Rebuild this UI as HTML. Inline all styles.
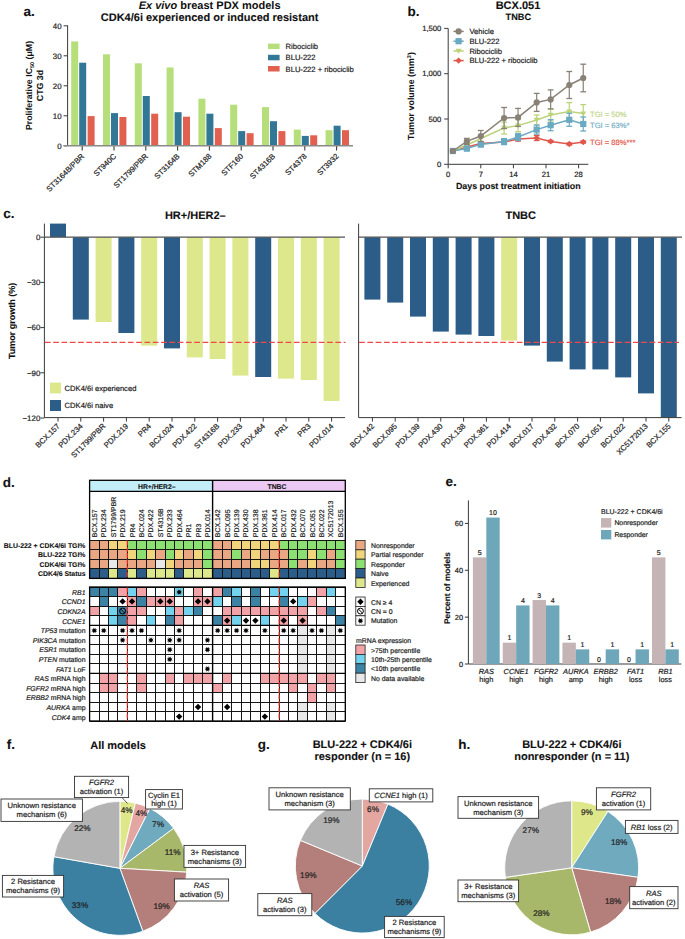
<!DOCTYPE html>
<html><head><meta charset="utf-8"><style>
html,body{margin:0;padding:0;background:#fff;overflow:hidden;width:685px;height:939px;}
svg{display:block;}
text{font-family:"Liberation Sans", sans-serif;text-rendering:geometricPrecision;}
</style></head><body>
<svg width="685" height="939" viewBox="0 0 685 939" font-family='"Liberation Sans", sans-serif'>
<rect width="685" height="939" fill="#fff"/>
<text x="23.50" y="16.20" font-size="13.5" text-anchor="start" font-weight="bold" fill="#111" stroke="#111" stroke-width="0.1">a.</text>
<text x="209.6" y="9.3" font-size="11" text-anchor="middle" font-weight="bold" fill="#111"><tspan font-style="italic">Ex vivo</tspan> breast PDX models</text>
<text x="209.60" y="21.30" font-size="11" text-anchor="middle" font-weight="bold" fill="#111" stroke="#111" stroke-width="0.1">CDK4/6i experienced or induced resistant</text>
<line x1="67.60" y1="25.40" x2="67.60" y2="145.80" stroke="#3a3a3a" stroke-width="1"/>
<line x1="63.60" y1="145.80" x2="67.60" y2="145.80" stroke="#3a3a3a" stroke-width="1"/>
<text x="61.60" y="149.00" font-size="7.9" text-anchor="end" fill="#222" stroke="#222" stroke-width="0.2">0</text>
<line x1="63.60" y1="115.80" x2="67.60" y2="115.80" stroke="#3a3a3a" stroke-width="1"/>
<text x="61.60" y="119.00" font-size="7.9" text-anchor="end" fill="#222" stroke="#222" stroke-width="0.2">10</text>
<line x1="63.60" y1="85.80" x2="67.60" y2="85.80" stroke="#3a3a3a" stroke-width="1"/>
<text x="61.60" y="89.00" font-size="7.9" text-anchor="end" fill="#222" stroke="#222" stroke-width="0.2">20</text>
<line x1="63.60" y1="55.80" x2="67.60" y2="55.80" stroke="#3a3a3a" stroke-width="1"/>
<text x="61.60" y="59.00" font-size="7.9" text-anchor="end" fill="#222" stroke="#222" stroke-width="0.2">30</text>
<line x1="63.60" y1="25.80" x2="67.60" y2="25.80" stroke="#3a3a3a" stroke-width="1"/>
<text x="61.60" y="29.00" font-size="7.9" text-anchor="end" fill="#222" stroke="#222" stroke-width="0.2">40</text>
<rect x="71.20" y="41.40" width="7.00" height="104.40" fill="#b6de7a"/>
<rect x="79.20" y="62.70" width="7.00" height="83.10" fill="#337797"/>
<rect x="87.60" y="116.10" width="7.00" height="29.70" fill="#e2604f"/>
<line x1="82.20" y1="145.80" x2="82.20" y2="150.60" stroke="#3a3a3a" stroke-width="1.1"/>
<text x="84.80" y="156.80" font-size="7.7" text-anchor="end" fill="#222" stroke="#222" stroke-width="0.2" transform="rotate(-45 84.8 156.8)">ST3164B/PBR</text>
<rect x="103.00" y="54.30" width="7.00" height="91.50" fill="#b6de7a"/>
<rect x="111.00" y="113.10" width="7.00" height="32.70" fill="#337797"/>
<rect x="119.40" y="117.00" width="7.00" height="28.80" fill="#e2604f"/>
<line x1="114.00" y1="145.80" x2="114.00" y2="150.60" stroke="#3a3a3a" stroke-width="1.1"/>
<text x="116.60" y="156.80" font-size="7.7" text-anchor="end" fill="#222" stroke="#222" stroke-width="0.2" transform="rotate(-45 116.6 156.8)">ST940C</text>
<rect x="134.80" y="63.30" width="7.00" height="82.50" fill="#b6de7a"/>
<rect x="142.80" y="96.00" width="7.00" height="49.80" fill="#337797"/>
<rect x="151.20" y="113.70" width="7.00" height="32.10" fill="#e2604f"/>
<line x1="145.80" y1="145.80" x2="145.80" y2="150.60" stroke="#3a3a3a" stroke-width="1.1"/>
<text x="148.40" y="156.80" font-size="7.7" text-anchor="end" fill="#222" stroke="#222" stroke-width="0.2" transform="rotate(-45 148.4 156.8)">ST1799/PBR</text>
<rect x="166.60" y="67.50" width="7.00" height="78.30" fill="#b6de7a"/>
<rect x="174.60" y="112.20" width="7.00" height="33.60" fill="#337797"/>
<rect x="183.00" y="116.70" width="7.00" height="29.10" fill="#e2604f"/>
<line x1="177.60" y1="145.80" x2="177.60" y2="150.60" stroke="#3a3a3a" stroke-width="1.1"/>
<text x="180.20" y="156.80" font-size="7.7" text-anchor="end" fill="#222" stroke="#222" stroke-width="0.2" transform="rotate(-45 180.20000000000002 156.8)">ST3164B</text>
<rect x="198.40" y="98.70" width="7.00" height="47.10" fill="#b6de7a"/>
<rect x="206.40" y="113.70" width="7.00" height="32.10" fill="#337797"/>
<rect x="214.80" y="128.10" width="7.00" height="17.70" fill="#e2604f"/>
<line x1="209.40" y1="145.80" x2="209.40" y2="150.60" stroke="#3a3a3a" stroke-width="1.1"/>
<text x="212.00" y="156.80" font-size="7.7" text-anchor="end" fill="#222" stroke="#222" stroke-width="0.2" transform="rotate(-45 212.0 156.8)">STM188</text>
<rect x="230.20" y="104.70" width="7.00" height="41.10" fill="#b6de7a"/>
<rect x="238.20" y="131.10" width="7.00" height="14.70" fill="#337797"/>
<rect x="246.60" y="133.20" width="7.00" height="12.60" fill="#e2604f"/>
<line x1="241.20" y1="145.80" x2="241.20" y2="150.60" stroke="#3a3a3a" stroke-width="1.1"/>
<text x="243.80" y="156.80" font-size="7.7" text-anchor="end" fill="#222" stroke="#222" stroke-width="0.2" transform="rotate(-45 243.79999999999998 156.8)">STF160</text>
<rect x="262.00" y="107.10" width="7.00" height="38.70" fill="#b6de7a"/>
<rect x="270.00" y="121.20" width="7.00" height="24.60" fill="#337797"/>
<rect x="278.40" y="131.10" width="7.00" height="14.70" fill="#e2604f"/>
<line x1="273.00" y1="145.80" x2="273.00" y2="150.60" stroke="#3a3a3a" stroke-width="1.1"/>
<text x="275.60" y="156.80" font-size="7.7" text-anchor="end" fill="#222" stroke="#222" stroke-width="0.2" transform="rotate(-45 275.6 156.8)">ST4316B</text>
<rect x="293.80" y="129.60" width="7.00" height="16.20" fill="#b6de7a"/>
<rect x="301.80" y="135.90" width="7.00" height="9.90" fill="#337797"/>
<rect x="310.20" y="135.30" width="7.00" height="10.50" fill="#e2604f"/>
<line x1="304.80" y1="145.80" x2="304.80" y2="150.60" stroke="#3a3a3a" stroke-width="1.1"/>
<text x="307.40" y="156.80" font-size="7.7" text-anchor="end" fill="#222" stroke="#222" stroke-width="0.2" transform="rotate(-45 307.40000000000003 156.8)">ST4378</text>
<rect x="325.60" y="130.20" width="7.00" height="15.60" fill="#b6de7a"/>
<rect x="333.60" y="125.70" width="7.00" height="20.10" fill="#337797"/>
<rect x="342.00" y="130.20" width="7.00" height="15.60" fill="#e2604f"/>
<line x1="336.60" y1="145.80" x2="336.60" y2="150.60" stroke="#3a3a3a" stroke-width="1.1"/>
<text x="339.20" y="156.80" font-size="7.7" text-anchor="end" fill="#222" stroke="#222" stroke-width="0.2" transform="rotate(-45 339.20000000000005 156.8)">ST3932</text>
<line x1="63.60" y1="145.80" x2="353.00" y2="145.80" stroke="#8a8a8a" stroke-width="1.4"/>
<text x="32" y="85.5" font-size="8.8" text-anchor="middle" font-weight="bold" fill="#111" transform="rotate(-90 32 85.5)">Proliferative IC<tspan font-size="5.5" dy="2">50</tspan><tspan dy="-2"> (μM)</tspan></text>
<text x="42.80" y="85.50" font-size="8.8" text-anchor="middle" font-weight="bold" fill="#111" stroke="#111" stroke-width="0.1" transform="rotate(-90 42.8 85.5)">CTG 3d</text>
<rect x="268.00" y="43.60" width="11.60" height="5.50" fill="#b6de7a"/>
<text x="285.60" y="49.20" font-size="7.6" text-anchor="start" fill="#222" stroke="#222" stroke-width="0.2">Ribociclib</text>
<rect x="268.00" y="54.80" width="11.60" height="5.50" fill="#337797"/>
<text x="285.60" y="60.40" font-size="7.6" text-anchor="start" fill="#222" stroke="#222" stroke-width="0.2">BLU-222</text>
<rect x="268.00" y="66.00" width="11.60" height="5.50" fill="#e2604f"/>
<text x="285.60" y="71.60" font-size="7.6" text-anchor="start" fill="#222" stroke="#222" stroke-width="0.2">BLU-222 + ribociclib</text>
<text x="407.60" y="16.20" font-size="13.5" text-anchor="start" font-weight="bold" fill="#111" stroke="#111" stroke-width="0.1">b.</text>
<text x="518.00" y="9.40" font-size="11" text-anchor="middle" font-weight="bold" fill="#111" stroke="#111" stroke-width="0.1">BCX.051</text>
<text x="518.30" y="20.30" font-size="9.2" text-anchor="middle" font-weight="bold" fill="#111" stroke="#111" stroke-width="0.1">TNBC</text>
<line x1="448.20" y1="28.40" x2="448.20" y2="164.30" stroke="#3a3a3a" stroke-width="1"/>
<line x1="444.20" y1="164.30" x2="448.20" y2="164.30" stroke="#3a3a3a" stroke-width="1"/>
<text x="441.20" y="167.00" font-size="7.6" text-anchor="end" fill="#222" stroke="#222" stroke-width="0.2">0</text>
<line x1="444.20" y1="119.00" x2="448.20" y2="119.00" stroke="#3a3a3a" stroke-width="1"/>
<text x="441.20" y="121.70" font-size="7.6" text-anchor="end" fill="#222" stroke="#222" stroke-width="0.2">500</text>
<line x1="444.20" y1="73.70" x2="448.20" y2="73.70" stroke="#3a3a3a" stroke-width="1"/>
<text x="441.20" y="76.40" font-size="7.6" text-anchor="end" fill="#222" stroke="#222" stroke-width="0.2">1,000</text>
<line x1="444.20" y1="28.40" x2="448.20" y2="28.40" stroke="#3a3a3a" stroke-width="1"/>
<text x="441.20" y="31.10" font-size="7.6" text-anchor="end" fill="#222" stroke="#222" stroke-width="0.2">1,500</text>
<line x1="448.20" y1="164.30" x2="588.30" y2="164.30" stroke="#3a3a3a" stroke-width="1"/>
<line x1="448.20" y1="164.30" x2="448.20" y2="168.30" stroke="#3a3a3a" stroke-width="1"/>
<text x="448.20" y="176.80" font-size="7.6" text-anchor="middle" fill="#222" stroke="#222" stroke-width="0.2">0</text>
<line x1="480.80" y1="164.30" x2="480.80" y2="168.30" stroke="#3a3a3a" stroke-width="1"/>
<text x="480.80" y="176.80" font-size="7.6" text-anchor="middle" fill="#222" stroke="#222" stroke-width="0.2">7</text>
<line x1="513.40" y1="164.30" x2="513.40" y2="168.30" stroke="#3a3a3a" stroke-width="1"/>
<text x="513.40" y="176.80" font-size="7.6" text-anchor="middle" fill="#222" stroke="#222" stroke-width="0.2">14</text>
<line x1="546.00" y1="164.30" x2="546.00" y2="168.30" stroke="#3a3a3a" stroke-width="1"/>
<text x="546.00" y="176.80" font-size="7.6" text-anchor="middle" fill="#222" stroke="#222" stroke-width="0.2">21</text>
<line x1="578.60" y1="164.30" x2="578.60" y2="168.30" stroke="#3a3a3a" stroke-width="1"/>
<text x="578.60" y="176.80" font-size="7.6" text-anchor="middle" fill="#222" stroke="#222" stroke-width="0.2">28</text>
<text x="518.30" y="188.60" font-size="8.9" text-anchor="middle" font-weight="bold" fill="#111" stroke="#111" stroke-width="0.1">Days post treatment initiation</text>
<text x="413.5" y="96" font-size="8.9" text-anchor="middle" font-weight="bold" fill="#111" transform="rotate(-90 413.5 96)">Tumor volume (mm<tspan font-size="5.5" dy="-3">3</tspan><tspan dy="3">)</tspan></text>
<polyline points="452.86,151.00 466.83,147.00 480.80,143.60 504.08,142.00 518.05,139.00 536.68,138.00 550.65,141.40 569.28,144.00 583.25,142.00" fill="none" stroke="#e0564a" stroke-width="1.5"/>
<line x1="466.83" y1="146.00" x2="466.83" y2="148.00" stroke="#e0564a" stroke-width="1.2"/>
<line x1="463.93" y1="146.00" x2="469.73" y2="146.00" stroke="#e0564a" stroke-width="1.3"/>
<line x1="463.93" y1="148.00" x2="469.73" y2="148.00" stroke="#e0564a" stroke-width="1.3"/>
<line x1="480.80" y1="141.60" x2="480.80" y2="145.60" stroke="#e0564a" stroke-width="1.2"/>
<line x1="477.90" y1="141.60" x2="483.70" y2="141.60" stroke="#e0564a" stroke-width="1.3"/>
<line x1="477.90" y1="145.60" x2="483.70" y2="145.60" stroke="#e0564a" stroke-width="1.3"/>
<line x1="504.08" y1="140.00" x2="504.08" y2="144.00" stroke="#e0564a" stroke-width="1.2"/>
<line x1="501.18" y1="140.00" x2="506.98" y2="140.00" stroke="#e0564a" stroke-width="1.3"/>
<line x1="501.18" y1="144.00" x2="506.98" y2="144.00" stroke="#e0564a" stroke-width="1.3"/>
<line x1="518.05" y1="137.00" x2="518.05" y2="141.00" stroke="#e0564a" stroke-width="1.2"/>
<line x1="515.15" y1="137.00" x2="520.95" y2="137.00" stroke="#e0564a" stroke-width="1.3"/>
<line x1="515.15" y1="141.00" x2="520.95" y2="141.00" stroke="#e0564a" stroke-width="1.3"/>
<line x1="536.68" y1="135.50" x2="536.68" y2="140.50" stroke="#e0564a" stroke-width="1.2"/>
<line x1="533.78" y1="135.50" x2="539.58" y2="135.50" stroke="#e0564a" stroke-width="1.3"/>
<line x1="533.78" y1="140.50" x2="539.58" y2="140.50" stroke="#e0564a" stroke-width="1.3"/>
<line x1="550.65" y1="140.40" x2="550.65" y2="142.40" stroke="#e0564a" stroke-width="1.2"/>
<line x1="547.75" y1="140.40" x2="553.55" y2="140.40" stroke="#e0564a" stroke-width="1.3"/>
<line x1="547.75" y1="142.40" x2="553.55" y2="142.40" stroke="#e0564a" stroke-width="1.3"/>
<line x1="569.28" y1="143.00" x2="569.28" y2="145.00" stroke="#e0564a" stroke-width="1.2"/>
<line x1="566.38" y1="143.00" x2="572.18" y2="143.00" stroke="#e0564a" stroke-width="1.3"/>
<line x1="566.38" y1="145.00" x2="572.18" y2="145.00" stroke="#e0564a" stroke-width="1.3"/>
<line x1="583.25" y1="141.00" x2="583.25" y2="143.00" stroke="#e0564a" stroke-width="1.2"/>
<line x1="580.35" y1="141.00" x2="586.15" y2="141.00" stroke="#e0564a" stroke-width="1.3"/>
<line x1="580.35" y1="143.00" x2="586.15" y2="143.00" stroke="#e0564a" stroke-width="1.3"/>
<path d="M452.86,147.80 L456.06,151.00 L452.86,154.20 L449.66,151.00 Z" fill="#e0564a"/>
<path d="M466.83,143.80 L470.03,147.00 L466.83,150.20 L463.63,147.00 Z" fill="#e0564a"/>
<path d="M480.80,140.40 L484.00,143.60 L480.80,146.80 L477.60,143.60 Z" fill="#e0564a"/>
<path d="M504.08,138.80 L507.28,142.00 L504.08,145.20 L500.88,142.00 Z" fill="#e0564a"/>
<path d="M518.05,135.80 L521.25,139.00 L518.05,142.20 L514.85,139.00 Z" fill="#e0564a"/>
<path d="M536.68,134.80 L539.88,138.00 L536.68,141.20 L533.48,138.00 Z" fill="#e0564a"/>
<path d="M550.65,138.20 L553.85,141.40 L550.65,144.60 L547.45,141.40 Z" fill="#e0564a"/>
<path d="M569.28,140.80 L572.48,144.00 L569.28,147.20 L566.08,144.00 Z" fill="#e0564a"/>
<path d="M583.25,138.80 L586.45,142.00 L583.25,145.20 L580.05,142.00 Z" fill="#e0564a"/>
<polyline points="452.86,151.00 466.83,145.00 480.80,138.50 504.08,128.00 518.05,125.60 536.68,120.00 550.65,115.00 569.28,111.60 583.25,113.60" fill="none" stroke="#bcd37b" stroke-width="1.5"/>
<line x1="466.83" y1="143.00" x2="466.83" y2="147.00" stroke="#bcd37b" stroke-width="1.2"/>
<line x1="463.93" y1="143.00" x2="469.73" y2="143.00" stroke="#bcd37b" stroke-width="1.3"/>
<line x1="463.93" y1="147.00" x2="469.73" y2="147.00" stroke="#bcd37b" stroke-width="1.3"/>
<line x1="480.80" y1="135.50" x2="480.80" y2="141.50" stroke="#bcd37b" stroke-width="1.2"/>
<line x1="477.90" y1="135.50" x2="483.70" y2="135.50" stroke="#bcd37b" stroke-width="1.3"/>
<line x1="477.90" y1="141.50" x2="483.70" y2="141.50" stroke="#bcd37b" stroke-width="1.3"/>
<line x1="504.08" y1="122.00" x2="504.08" y2="134.00" stroke="#bcd37b" stroke-width="1.2"/>
<line x1="501.18" y1="122.00" x2="506.98" y2="122.00" stroke="#bcd37b" stroke-width="1.3"/>
<line x1="501.18" y1="134.00" x2="506.98" y2="134.00" stroke="#bcd37b" stroke-width="1.3"/>
<line x1="518.05" y1="119.60" x2="518.05" y2="131.60" stroke="#bcd37b" stroke-width="1.2"/>
<line x1="515.15" y1="119.60" x2="520.95" y2="119.60" stroke="#bcd37b" stroke-width="1.3"/>
<line x1="515.15" y1="131.60" x2="520.95" y2="131.60" stroke="#bcd37b" stroke-width="1.3"/>
<line x1="536.68" y1="115.00" x2="536.68" y2="125.00" stroke="#bcd37b" stroke-width="1.2"/>
<line x1="533.78" y1="115.00" x2="539.58" y2="115.00" stroke="#bcd37b" stroke-width="1.3"/>
<line x1="533.78" y1="125.00" x2="539.58" y2="125.00" stroke="#bcd37b" stroke-width="1.3"/>
<line x1="550.65" y1="109.00" x2="550.65" y2="121.00" stroke="#bcd37b" stroke-width="1.2"/>
<line x1="547.75" y1="109.00" x2="553.55" y2="109.00" stroke="#bcd37b" stroke-width="1.3"/>
<line x1="547.75" y1="121.00" x2="553.55" y2="121.00" stroke="#bcd37b" stroke-width="1.3"/>
<line x1="569.28" y1="102.60" x2="569.28" y2="120.60" stroke="#bcd37b" stroke-width="1.2"/>
<line x1="566.38" y1="102.60" x2="572.18" y2="102.60" stroke="#bcd37b" stroke-width="1.3"/>
<line x1="566.38" y1="120.60" x2="572.18" y2="120.60" stroke="#bcd37b" stroke-width="1.3"/>
<line x1="583.25" y1="104.60" x2="583.25" y2="122.60" stroke="#bcd37b" stroke-width="1.2"/>
<line x1="580.35" y1="104.60" x2="586.15" y2="104.60" stroke="#bcd37b" stroke-width="1.3"/>
<line x1="580.35" y1="122.60" x2="586.15" y2="122.60" stroke="#bcd37b" stroke-width="1.3"/>
<path d="M449.86,148.80 L455.86,148.80 L452.86,153.80 Z" fill="#bcd37b"/>
<path d="M463.83,142.80 L469.83,142.80 L466.83,147.80 Z" fill="#bcd37b"/>
<path d="M477.80,136.30 L483.80,136.30 L480.80,141.30 Z" fill="#bcd37b"/>
<path d="M501.08,125.80 L507.08,125.80 L504.08,130.80 Z" fill="#bcd37b"/>
<path d="M515.05,123.40 L521.05,123.40 L518.05,128.40 Z" fill="#bcd37b"/>
<path d="M533.68,117.80 L539.68,117.80 L536.68,122.80 Z" fill="#bcd37b"/>
<path d="M547.65,112.80 L553.65,112.80 L550.65,117.80 Z" fill="#bcd37b"/>
<path d="M566.28,109.40 L572.28,109.40 L569.28,114.40 Z" fill="#bcd37b"/>
<path d="M580.25,111.40 L586.25,111.40 L583.25,116.40 Z" fill="#bcd37b"/>
<polyline points="452.86,151.00 466.83,148.60 480.80,144.40 504.08,141.60 518.05,137.00 536.68,129.60 550.65,125.20 569.28,119.80 583.25,124.00" fill="none" stroke="#69a9c2" stroke-width="1.5"/>
<line x1="466.83" y1="146.60" x2="466.83" y2="150.60" stroke="#69a9c2" stroke-width="1.2"/>
<line x1="463.93" y1="146.60" x2="469.73" y2="146.60" stroke="#69a9c2" stroke-width="1.3"/>
<line x1="463.93" y1="150.60" x2="469.73" y2="150.60" stroke="#69a9c2" stroke-width="1.3"/>
<line x1="480.80" y1="141.90" x2="480.80" y2="146.90" stroke="#69a9c2" stroke-width="1.2"/>
<line x1="477.90" y1="141.90" x2="483.70" y2="141.90" stroke="#69a9c2" stroke-width="1.3"/>
<line x1="477.90" y1="146.90" x2="483.70" y2="146.90" stroke="#69a9c2" stroke-width="1.3"/>
<line x1="504.08" y1="138.60" x2="504.08" y2="144.60" stroke="#69a9c2" stroke-width="1.2"/>
<line x1="501.18" y1="138.60" x2="506.98" y2="138.60" stroke="#69a9c2" stroke-width="1.3"/>
<line x1="501.18" y1="144.60" x2="506.98" y2="144.60" stroke="#69a9c2" stroke-width="1.3"/>
<line x1="518.05" y1="133.50" x2="518.05" y2="140.50" stroke="#69a9c2" stroke-width="1.2"/>
<line x1="515.15" y1="133.50" x2="520.95" y2="133.50" stroke="#69a9c2" stroke-width="1.3"/>
<line x1="515.15" y1="140.50" x2="520.95" y2="140.50" stroke="#69a9c2" stroke-width="1.3"/>
<line x1="536.68" y1="125.10" x2="536.68" y2="134.10" stroke="#69a9c2" stroke-width="1.2"/>
<line x1="533.78" y1="125.10" x2="539.58" y2="125.10" stroke="#69a9c2" stroke-width="1.3"/>
<line x1="533.78" y1="134.10" x2="539.58" y2="134.10" stroke="#69a9c2" stroke-width="1.3"/>
<line x1="550.65" y1="119.70" x2="550.65" y2="130.70" stroke="#69a9c2" stroke-width="1.2"/>
<line x1="547.75" y1="119.70" x2="553.55" y2="119.70" stroke="#69a9c2" stroke-width="1.3"/>
<line x1="547.75" y1="130.70" x2="553.55" y2="130.70" stroke="#69a9c2" stroke-width="1.3"/>
<line x1="569.28" y1="113.30" x2="569.28" y2="126.30" stroke="#69a9c2" stroke-width="1.2"/>
<line x1="566.38" y1="113.30" x2="572.18" y2="113.30" stroke="#69a9c2" stroke-width="1.3"/>
<line x1="566.38" y1="126.30" x2="572.18" y2="126.30" stroke="#69a9c2" stroke-width="1.3"/>
<line x1="583.25" y1="117.00" x2="583.25" y2="131.00" stroke="#69a9c2" stroke-width="1.2"/>
<line x1="580.35" y1="117.00" x2="586.15" y2="117.00" stroke="#69a9c2" stroke-width="1.3"/>
<line x1="580.35" y1="131.00" x2="586.15" y2="131.00" stroke="#69a9c2" stroke-width="1.3"/>
<rect x="449.76" y="147.90" width="6.20" height="6.20" fill="#69a9c2"/>
<rect x="463.73" y="145.50" width="6.20" height="6.20" fill="#69a9c2"/>
<rect x="477.70" y="141.30" width="6.20" height="6.20" fill="#69a9c2"/>
<rect x="500.98" y="138.50" width="6.20" height="6.20" fill="#69a9c2"/>
<rect x="514.95" y="133.90" width="6.20" height="6.20" fill="#69a9c2"/>
<rect x="533.58" y="126.50" width="6.20" height="6.20" fill="#69a9c2"/>
<rect x="547.55" y="122.10" width="6.20" height="6.20" fill="#69a9c2"/>
<rect x="566.18" y="116.70" width="6.20" height="6.20" fill="#69a9c2"/>
<rect x="580.15" y="120.90" width="6.20" height="6.20" fill="#69a9c2"/>
<polyline points="452.86,151.00 466.83,141.40 480.80,136.00 504.08,118.00 518.05,117.40 536.68,102.40 550.65,99.40 569.28,85.00 583.25,78.00" fill="none" stroke="#8a8176" stroke-width="1.5"/>
<line x1="466.83" y1="138.40" x2="466.83" y2="144.40" stroke="#8a8176" stroke-width="1.2"/>
<line x1="463.93" y1="138.40" x2="469.73" y2="138.40" stroke="#8a8176" stroke-width="1.3"/>
<line x1="463.93" y1="144.40" x2="469.73" y2="144.40" stroke="#8a8176" stroke-width="1.3"/>
<line x1="480.80" y1="130.50" x2="480.80" y2="141.50" stroke="#8a8176" stroke-width="1.2"/>
<line x1="477.90" y1="130.50" x2="483.70" y2="130.50" stroke="#8a8176" stroke-width="1.3"/>
<line x1="477.90" y1="141.50" x2="483.70" y2="141.50" stroke="#8a8176" stroke-width="1.3"/>
<line x1="504.08" y1="107.50" x2="504.08" y2="128.50" stroke="#8a8176" stroke-width="1.2"/>
<line x1="501.18" y1="107.50" x2="506.98" y2="107.50" stroke="#8a8176" stroke-width="1.3"/>
<line x1="501.18" y1="128.50" x2="506.98" y2="128.50" stroke="#8a8176" stroke-width="1.3"/>
<line x1="518.05" y1="108.40" x2="518.05" y2="126.40" stroke="#8a8176" stroke-width="1.2"/>
<line x1="515.15" y1="108.40" x2="520.95" y2="108.40" stroke="#8a8176" stroke-width="1.3"/>
<line x1="515.15" y1="126.40" x2="520.95" y2="126.40" stroke="#8a8176" stroke-width="1.3"/>
<line x1="536.68" y1="93.40" x2="536.68" y2="111.40" stroke="#8a8176" stroke-width="1.2"/>
<line x1="533.78" y1="93.40" x2="539.58" y2="93.40" stroke="#8a8176" stroke-width="1.3"/>
<line x1="533.78" y1="111.40" x2="539.58" y2="111.40" stroke="#8a8176" stroke-width="1.3"/>
<line x1="550.65" y1="89.90" x2="550.65" y2="108.90" stroke="#8a8176" stroke-width="1.2"/>
<line x1="547.75" y1="89.90" x2="553.55" y2="89.90" stroke="#8a8176" stroke-width="1.3"/>
<line x1="547.75" y1="108.90" x2="553.55" y2="108.90" stroke="#8a8176" stroke-width="1.3"/>
<line x1="569.28" y1="71.50" x2="569.28" y2="98.50" stroke="#8a8176" stroke-width="1.2"/>
<line x1="566.38" y1="71.50" x2="572.18" y2="71.50" stroke="#8a8176" stroke-width="1.3"/>
<line x1="566.38" y1="98.50" x2="572.18" y2="98.50" stroke="#8a8176" stroke-width="1.3"/>
<line x1="583.25" y1="64.20" x2="583.25" y2="91.80" stroke="#8a8176" stroke-width="1.2"/>
<line x1="580.35" y1="64.20" x2="586.15" y2="64.20" stroke="#8a8176" stroke-width="1.3"/>
<line x1="580.35" y1="91.80" x2="586.15" y2="91.80" stroke="#8a8176" stroke-width="1.3"/>
<circle cx="452.86" cy="151.00" r="3.1" fill="#8a8176"/>
<circle cx="466.83" cy="141.40" r="3.1" fill="#8a8176"/>
<circle cx="480.80" cy="136.00" r="3.1" fill="#8a8176"/>
<circle cx="504.08" cy="118.00" r="3.1" fill="#8a8176"/>
<circle cx="518.05" cy="117.40" r="3.1" fill="#8a8176"/>
<circle cx="536.68" cy="102.40" r="3.1" fill="#8a8176"/>
<circle cx="550.65" cy="99.40" r="3.1" fill="#8a8176"/>
<circle cx="569.28" cy="85.00" r="3.1" fill="#8a8176"/>
<circle cx="583.25" cy="78.00" r="3.1" fill="#8a8176"/>
<line x1="453.50" y1="31.40" x2="463.70" y2="31.40" stroke="#8a8176" stroke-width="1.5"/>
<circle cx="458.60" cy="31.40" r="3.1" fill="#8a8176"/>
<text x="469.40" y="34.10" font-size="7.6" text-anchor="start" fill="#222" stroke="#222" stroke-width="0.2">Vehicle</text>
<line x1="453.50" y1="41.20" x2="463.70" y2="41.20" stroke="#69a9c2" stroke-width="1.5"/>
<rect x="455.50" y="38.10" width="6.20" height="6.20" fill="#69a9c2"/>
<text x="469.40" y="43.90" font-size="7.6" text-anchor="start" fill="#222" stroke="#222" stroke-width="0.2">BLU-222</text>
<line x1="453.50" y1="51.00" x2="463.70" y2="51.00" stroke="#bcd37b" stroke-width="1.5"/>
<path d="M455.60,48.80 L461.60,48.80 L458.60,53.80 Z" fill="#bcd37b"/>
<text x="469.40" y="53.70" font-size="7.6" text-anchor="start" fill="#222" stroke="#222" stroke-width="0.2">Ribociclib</text>
<line x1="453.50" y1="60.60" x2="463.70" y2="60.60" stroke="#e0564a" stroke-width="1.5"/>
<path d="M458.60,57.40 L461.80,60.60 L458.60,63.80 L455.40,60.60 Z" fill="#e0564a"/>
<text x="469.40" y="63.30" font-size="7.6" text-anchor="start" fill="#222" stroke="#222" stroke-width="0.2">BLU-222 + ribociclib</text>
<text x="590.00" y="117.10" font-size="7.6" text-anchor="start" fill="#c3d68c" stroke="#c3d68c" stroke-width="0.2">TGI = 50%</text>
<text x="590.00" y="128.30" font-size="7.6" text-anchor="start" fill="#79b1c6" stroke="#79b1c6" stroke-width="0.2">TGI = 63%*</text>
<text x="590.00" y="145.10" font-size="7.6" text-anchor="start" fill="#e45c50" stroke="#e45c50" stroke-width="0.2">TGI = 88%***</text>
<text x="3.20" y="218.30" font-size="13.5" text-anchor="start" font-weight="bold" fill="#111" stroke="#111" stroke-width="0.1">c.</text>
<text x="195.30" y="219.20" font-size="11" text-anchor="middle" font-weight="bold" fill="#111" stroke="#111" stroke-width="0.1">HR+/HER2–</text>
<text x="520.70" y="219.20" font-size="11" text-anchor="middle" font-weight="bold" fill="#111" stroke="#111" stroke-width="0.1">TNBC</text>
<line x1="44.40" y1="223.60" x2="44.40" y2="417.60" stroke="#3a3a3a" stroke-width="1"/>
<line x1="40.40" y1="237.20" x2="44.40" y2="237.20" stroke="#3a3a3a" stroke-width="1"/>
<text x="40.30" y="240.00" font-size="7.9" text-anchor="end" fill="#222" stroke="#222" stroke-width="0.2">0</text>
<line x1="40.40" y1="282.40" x2="44.40" y2="282.40" stroke="#3a3a3a" stroke-width="1"/>
<text x="40.30" y="285.20" font-size="7.9" text-anchor="end" fill="#222" stroke="#222" stroke-width="0.2">−30</text>
<line x1="40.40" y1="327.60" x2="44.40" y2="327.60" stroke="#3a3a3a" stroke-width="1"/>
<text x="40.30" y="330.40" font-size="7.9" text-anchor="end" fill="#222" stroke="#222" stroke-width="0.2">−60</text>
<line x1="40.40" y1="372.80" x2="44.40" y2="372.80" stroke="#3a3a3a" stroke-width="1"/>
<text x="40.30" y="375.60" font-size="7.9" text-anchor="end" fill="#222" stroke="#222" stroke-width="0.2">−90</text>
<line x1="40.40" y1="418.00" x2="44.40" y2="418.00" stroke="#3a3a3a" stroke-width="1"/>
<text x="40.30" y="420.80" font-size="7.9" text-anchor="end" fill="#222" stroke="#222" stroke-width="0.2">−120</text>
<rect x="50.00" y="223.60" width="16.00" height="13.60" fill="#2c5d88"/>
<line x1="58.00" y1="417.60" x2="58.00" y2="421.60" stroke="#3a3a3a" stroke-width="1"/>
<text x="60.40" y="426.60" font-size="7.7" text-anchor="end" fill="#222" stroke="#222" stroke-width="0.2" transform="rotate(-45 60.4 426.6)">BCX.157</text>
<rect x="72.80" y="237.20" width="16.00" height="82.40" fill="#2c5d88"/>
<line x1="80.80" y1="417.60" x2="80.80" y2="421.60" stroke="#3a3a3a" stroke-width="1"/>
<text x="83.20" y="426.60" font-size="7.7" text-anchor="end" fill="#222" stroke="#222" stroke-width="0.2" transform="rotate(-45 83.2 426.6)">PDX.234</text>
<rect x="95.60" y="237.20" width="16.00" height="84.80" fill="#dde78b"/>
<line x1="103.60" y1="417.60" x2="103.60" y2="421.60" stroke="#3a3a3a" stroke-width="1"/>
<text x="106.00" y="426.60" font-size="7.7" text-anchor="end" fill="#222" stroke="#222" stroke-width="0.2" transform="rotate(-45 106.0 426.6)">ST1799/PBR</text>
<rect x="118.40" y="237.20" width="16.00" height="95.80" fill="#2c5d88"/>
<line x1="126.40" y1="417.60" x2="126.40" y2="421.60" stroke="#3a3a3a" stroke-width="1"/>
<text x="128.80" y="426.60" font-size="7.7" text-anchor="end" fill="#222" stroke="#222" stroke-width="0.2" transform="rotate(-45 128.8 426.6)">PDX.219</text>
<rect x="141.20" y="237.20" width="16.00" height="108.40" fill="#dde78b"/>
<line x1="149.20" y1="417.60" x2="149.20" y2="421.60" stroke="#3a3a3a" stroke-width="1"/>
<text x="151.60" y="426.60" font-size="7.7" text-anchor="end" fill="#222" stroke="#222" stroke-width="0.2" transform="rotate(-45 151.6 426.6)">PR4</text>
<rect x="164.00" y="237.20" width="16.00" height="111.20" fill="#2c5d88"/>
<line x1="172.00" y1="417.60" x2="172.00" y2="421.60" stroke="#3a3a3a" stroke-width="1"/>
<text x="174.40" y="426.60" font-size="7.7" text-anchor="end" fill="#222" stroke="#222" stroke-width="0.2" transform="rotate(-45 174.4 426.6)">BCX.024</text>
<rect x="186.80" y="237.20" width="16.00" height="120.20" fill="#dde78b"/>
<line x1="194.80" y1="417.60" x2="194.80" y2="421.60" stroke="#3a3a3a" stroke-width="1"/>
<text x="197.20" y="426.60" font-size="7.7" text-anchor="end" fill="#222" stroke="#222" stroke-width="0.2" transform="rotate(-45 197.20000000000002 426.6)">PDX.422</text>
<rect x="209.60" y="237.20" width="16.00" height="121.80" fill="#dde78b"/>
<line x1="217.60" y1="417.60" x2="217.60" y2="421.60" stroke="#3a3a3a" stroke-width="1"/>
<text x="220.00" y="426.60" font-size="7.7" text-anchor="end" fill="#222" stroke="#222" stroke-width="0.2" transform="rotate(-45 220.0 426.6)">ST4316B</text>
<rect x="232.40" y="237.20" width="16.00" height="138.40" fill="#dde78b"/>
<line x1="240.40" y1="417.60" x2="240.40" y2="421.60" stroke="#3a3a3a" stroke-width="1"/>
<text x="242.80" y="426.60" font-size="7.7" text-anchor="end" fill="#222" stroke="#222" stroke-width="0.2" transform="rotate(-45 242.8 426.6)">PDX.233</text>
<rect x="255.20" y="237.20" width="16.00" height="139.80" fill="#2c5d88"/>
<line x1="263.20" y1="417.60" x2="263.20" y2="421.60" stroke="#3a3a3a" stroke-width="1"/>
<text x="265.60" y="426.60" font-size="7.7" text-anchor="end" fill="#222" stroke="#222" stroke-width="0.2" transform="rotate(-45 265.6 426.6)">PDX.464</text>
<rect x="278.00" y="237.20" width="16.00" height="141.40" fill="#dde78b"/>
<line x1="286.00" y1="417.60" x2="286.00" y2="421.60" stroke="#3a3a3a" stroke-width="1"/>
<text x="288.40" y="426.60" font-size="7.7" text-anchor="end" fill="#222" stroke="#222" stroke-width="0.2" transform="rotate(-45 288.4 426.6)">PR1</text>
<rect x="300.80" y="237.20" width="16.00" height="142.80" fill="#dde78b"/>
<line x1="308.80" y1="417.60" x2="308.80" y2="421.60" stroke="#3a3a3a" stroke-width="1"/>
<text x="311.20" y="426.60" font-size="7.7" text-anchor="end" fill="#222" stroke="#222" stroke-width="0.2" transform="rotate(-45 311.2 426.6)">PR3</text>
<rect x="323.60" y="237.20" width="16.00" height="163.80" fill="#dde78b"/>
<line x1="331.60" y1="417.60" x2="331.60" y2="421.60" stroke="#3a3a3a" stroke-width="1"/>
<text x="334.00" y="426.60" font-size="7.7" text-anchor="end" fill="#222" stroke="#222" stroke-width="0.2" transform="rotate(-45 334.0 426.6)">PDX.014</text>
<line x1="44.40" y1="237.20" x2="345.00" y2="237.20" stroke="#555" stroke-width="1.2"/>
<line x1="44.40" y1="417.60" x2="345.00" y2="417.60" stroke="#3a3a3a" stroke-width="1"/>
<line x1="358.60" y1="223.60" x2="358.60" y2="417.60" stroke="#3a3a3a" stroke-width="1"/>
<rect x="364.40" y="237.20" width="16.00" height="62.40" fill="#2c5d88"/>
<line x1="372.40" y1="417.60" x2="372.40" y2="421.60" stroke="#3a3a3a" stroke-width="1"/>
<text x="374.80" y="426.60" font-size="7.7" text-anchor="end" fill="#222" stroke="#222" stroke-width="0.2" transform="rotate(-45 374.79999999999995 426.6)">BCX.142</text>
<rect x="387.20" y="237.20" width="16.00" height="65.40" fill="#2c5d88"/>
<line x1="395.20" y1="417.60" x2="395.20" y2="421.60" stroke="#3a3a3a" stroke-width="1"/>
<text x="397.60" y="426.60" font-size="7.7" text-anchor="end" fill="#222" stroke="#222" stroke-width="0.2" transform="rotate(-45 397.59999999999997 426.6)">BCX.095</text>
<rect x="410.00" y="237.20" width="16.00" height="79.40" fill="#2c5d88"/>
<line x1="418.00" y1="417.60" x2="418.00" y2="421.60" stroke="#3a3a3a" stroke-width="1"/>
<text x="420.40" y="426.60" font-size="7.7" text-anchor="end" fill="#222" stroke="#222" stroke-width="0.2" transform="rotate(-45 420.4 426.6)">PDX.139</text>
<rect x="432.80" y="237.20" width="16.00" height="94.40" fill="#2c5d88"/>
<line x1="440.80" y1="417.60" x2="440.80" y2="421.60" stroke="#3a3a3a" stroke-width="1"/>
<text x="443.20" y="426.60" font-size="7.7" text-anchor="end" fill="#222" stroke="#222" stroke-width="0.2" transform="rotate(-45 443.19999999999993 426.6)">PDX.430</text>
<rect x="455.60" y="237.20" width="16.00" height="97.40" fill="#2c5d88"/>
<line x1="463.60" y1="417.60" x2="463.60" y2="421.60" stroke="#3a3a3a" stroke-width="1"/>
<text x="466.00" y="426.60" font-size="7.7" text-anchor="end" fill="#222" stroke="#222" stroke-width="0.2" transform="rotate(-45 465.99999999999994 426.6)">PDX.138</text>
<rect x="478.40" y="237.20" width="16.00" height="98.80" fill="#2c5d88"/>
<line x1="486.40" y1="417.60" x2="486.40" y2="421.60" stroke="#3a3a3a" stroke-width="1"/>
<text x="488.80" y="426.60" font-size="7.7" text-anchor="end" fill="#222" stroke="#222" stroke-width="0.2" transform="rotate(-45 488.79999999999995 426.6)">PDX.361</text>
<rect x="501.20" y="237.20" width="16.00" height="103.40" fill="#dde78b"/>
<line x1="509.20" y1="417.60" x2="509.20" y2="421.60" stroke="#3a3a3a" stroke-width="1"/>
<text x="511.60" y="426.60" font-size="7.7" text-anchor="end" fill="#222" stroke="#222" stroke-width="0.2" transform="rotate(-45 511.59999999999997 426.6)">PDX.414</text>
<rect x="524.00" y="237.20" width="16.00" height="108.40" fill="#2c5d88"/>
<line x1="532.00" y1="417.60" x2="532.00" y2="421.60" stroke="#3a3a3a" stroke-width="1"/>
<text x="534.40" y="426.60" font-size="7.7" text-anchor="end" fill="#222" stroke="#222" stroke-width="0.2" transform="rotate(-45 534.4 426.6)">BCX.017</text>
<rect x="546.80" y="237.20" width="16.00" height="124.40" fill="#2c5d88"/>
<line x1="554.80" y1="417.60" x2="554.80" y2="421.60" stroke="#3a3a3a" stroke-width="1"/>
<text x="557.20" y="426.60" font-size="7.7" text-anchor="end" fill="#222" stroke="#222" stroke-width="0.2" transform="rotate(-45 557.1999999999999 426.6)">PDX.432</text>
<rect x="569.60" y="237.20" width="16.00" height="132.20" fill="#2c5d88"/>
<line x1="577.60" y1="417.60" x2="577.60" y2="421.60" stroke="#3a3a3a" stroke-width="1"/>
<text x="580.00" y="426.60" font-size="7.7" text-anchor="end" fill="#222" stroke="#222" stroke-width="0.2" transform="rotate(-45 580.0 426.6)">BCX.070</text>
<rect x="592.40" y="237.20" width="16.00" height="132.20" fill="#2c5d88"/>
<line x1="600.40" y1="417.60" x2="600.40" y2="421.60" stroke="#3a3a3a" stroke-width="1"/>
<text x="602.80" y="426.60" font-size="7.7" text-anchor="end" fill="#222" stroke="#222" stroke-width="0.2" transform="rotate(-45 602.8 426.6)">BCX.051</text>
<rect x="615.20" y="237.20" width="16.00" height="140.20" fill="#2c5d88"/>
<line x1="623.20" y1="417.60" x2="623.20" y2="421.60" stroke="#3a3a3a" stroke-width="1"/>
<text x="625.60" y="426.60" font-size="7.7" text-anchor="end" fill="#222" stroke="#222" stroke-width="0.2" transform="rotate(-45 625.6 426.6)">BCX.022</text>
<rect x="638.00" y="237.20" width="16.00" height="156.20" fill="#2c5d88"/>
<line x1="646.00" y1="417.60" x2="646.00" y2="421.60" stroke="#3a3a3a" stroke-width="1"/>
<text x="648.40" y="426.60" font-size="7.7" text-anchor="end" fill="#222" stroke="#222" stroke-width="0.2" transform="rotate(-45 648.4 426.6)">XC5172013</text>
<rect x="660.80" y="237.20" width="16.00" height="180.20" fill="#2c5d88"/>
<line x1="668.80" y1="417.60" x2="668.80" y2="421.60" stroke="#3a3a3a" stroke-width="1"/>
<text x="671.20" y="426.60" font-size="7.7" text-anchor="end" fill="#222" stroke="#222" stroke-width="0.2" transform="rotate(-45 671.1999999999999 426.6)">BCX.155</text>
<line x1="358.60" y1="237.20" x2="682.00" y2="237.20" stroke="#555" stroke-width="1.2"/>
<line x1="358.60" y1="417.60" x2="681.60" y2="417.60" stroke="#3a3a3a" stroke-width="1"/>
<line x1="44.90" y1="342.45" x2="345.50" y2="342.45" stroke="#f04848" stroke-width="1.2" stroke-dasharray="5.7 2.6"/>
<line x1="359.10" y1="342.45" x2="679.00" y2="342.45" stroke="#f04848" stroke-width="1.2" stroke-dasharray="5.7 2.6"/>
<text x="15.00" y="320.80" font-size="9" text-anchor="middle" font-weight="bold" fill="#111" stroke="#111" stroke-width="0.1" transform="rotate(-90 15.0 320.8)">Tumor growth (%)</text>
<rect x="50.00" y="382.60" width="11.00" height="10.80" fill="#dde78b"/>
<rect x="50.00" y="400.00" width="11.00" height="11.00" fill="#2c5d88"/>
<text x="64.60" y="391.00" font-size="7.6" text-anchor="start" fill="#222" stroke="#222" stroke-width="0.2">CDK4/6i experienced</text>
<text x="64.60" y="408.40" font-size="7.6" text-anchor="start" fill="#222" stroke="#222" stroke-width="0.2">CDK4/6i naive</text>
<text x="2.70" y="486.60" font-size="13.5" text-anchor="start" font-weight="bold" fill="#111" stroke="#111" stroke-width="0.1">d.</text>
<rect x="89.60" y="480.30" width="122.80" height="11.10" fill="#c3eef8"/>
<rect x="212.40" y="480.30" width="132.90" height="11.10" fill="#ecc9f2"/>
<text x="156.80" y="488.60" font-size="6.8" text-anchor="middle" font-weight="bold" fill="#111" stroke="#111" stroke-width="0.1">HR+/HER2–</text>
<text x="277.00" y="488.60" font-size="6.8" text-anchor="middle" font-weight="bold" fill="#111" stroke="#111" stroke-width="0.1">TNBC</text>
<text x="96.81" y="537.20" font-size="6.95" text-anchor="start" fill="#222" stroke="#222" stroke-width="0.2" transform="rotate(-90 96.815 537.2)">BCX.157</text>
<text x="106.25" y="537.20" font-size="6.95" text-anchor="start" fill="#222" stroke="#222" stroke-width="0.2" transform="rotate(-90 106.245 537.2)">PDX.234</text>
<text x="115.67" y="537.20" font-size="6.95" text-anchor="start" fill="#222" stroke="#222" stroke-width="0.2" transform="rotate(-90 115.675 537.2)">ST1799/PBR</text>
<text x="125.10" y="537.20" font-size="6.95" text-anchor="start" fill="#222" stroke="#222" stroke-width="0.2" transform="rotate(-90 125.10499999999999 537.2)">PDX.219</text>
<text x="134.53" y="537.20" font-size="6.95" text-anchor="start" fill="#222" stroke="#222" stroke-width="0.2" transform="rotate(-90 134.535 537.2)">PR4</text>
<text x="143.97" y="537.20" font-size="6.95" text-anchor="start" fill="#222" stroke="#222" stroke-width="0.2" transform="rotate(-90 143.965 537.2)">BCX.024</text>
<text x="153.40" y="537.20" font-size="6.95" text-anchor="start" fill="#222" stroke="#222" stroke-width="0.2" transform="rotate(-90 153.395 537.2)">PDX.422</text>
<text x="162.82" y="537.20" font-size="6.95" text-anchor="start" fill="#222" stroke="#222" stroke-width="0.2" transform="rotate(-90 162.825 537.2)">ST4316B</text>
<text x="172.25" y="537.20" font-size="6.95" text-anchor="start" fill="#222" stroke="#222" stroke-width="0.2" transform="rotate(-90 172.255 537.2)">PDX.233</text>
<text x="181.69" y="537.20" font-size="6.95" text-anchor="start" fill="#222" stroke="#222" stroke-width="0.2" transform="rotate(-90 181.685 537.2)">PDX.464</text>
<text x="191.11" y="537.20" font-size="6.95" text-anchor="start" fill="#222" stroke="#222" stroke-width="0.2" transform="rotate(-90 191.11499999999998 537.2)">PR1</text>
<text x="200.54" y="537.20" font-size="6.95" text-anchor="start" fill="#222" stroke="#222" stroke-width="0.2" transform="rotate(-90 200.545 537.2)">PR3</text>
<text x="209.97" y="537.20" font-size="6.95" text-anchor="start" fill="#222" stroke="#222" stroke-width="0.2" transform="rotate(-90 209.975 537.2)">PDX.014</text>
<text x="220.22" y="537.20" font-size="6.95" text-anchor="start" fill="#222" stroke="#222" stroke-width="0.2" transform="rotate(-90 220.215 537.2)">BCX.142</text>
<text x="229.65" y="537.20" font-size="6.95" text-anchor="start" fill="#222" stroke="#222" stroke-width="0.2" transform="rotate(-90 229.645 537.2)">BCX.095</text>
<text x="239.08" y="537.20" font-size="6.95" text-anchor="start" fill="#222" stroke="#222" stroke-width="0.2" transform="rotate(-90 239.07500000000002 537.2)">PDX.139</text>
<text x="248.50" y="537.20" font-size="6.95" text-anchor="start" fill="#222" stroke="#222" stroke-width="0.2" transform="rotate(-90 248.505 537.2)">PDX.430</text>
<text x="257.94" y="537.20" font-size="6.95" text-anchor="start" fill="#222" stroke="#222" stroke-width="0.2" transform="rotate(-90 257.935 537.2)">PDX.138</text>
<text x="267.36" y="537.20" font-size="6.95" text-anchor="start" fill="#222" stroke="#222" stroke-width="0.2" transform="rotate(-90 267.36499999999995 537.2)">PDX.361</text>
<text x="276.79" y="537.20" font-size="6.95" text-anchor="start" fill="#222" stroke="#222" stroke-width="0.2" transform="rotate(-90 276.79499999999996 537.2)">PDX.414</text>
<text x="286.22" y="537.20" font-size="6.95" text-anchor="start" fill="#222" stroke="#222" stroke-width="0.2" transform="rotate(-90 286.22499999999997 537.2)">BCX.017</text>
<text x="295.65" y="537.20" font-size="6.95" text-anchor="start" fill="#222" stroke="#222" stroke-width="0.2" transform="rotate(-90 295.655 537.2)">PDX.432</text>
<text x="305.08" y="537.20" font-size="6.95" text-anchor="start" fill="#222" stroke="#222" stroke-width="0.2" transform="rotate(-90 305.085 537.2)">BCX.070</text>
<text x="314.51" y="537.20" font-size="6.95" text-anchor="start" fill="#222" stroke="#222" stroke-width="0.2" transform="rotate(-90 314.515 537.2)">BCX.051</text>
<text x="323.94" y="537.20" font-size="6.95" text-anchor="start" fill="#222" stroke="#222" stroke-width="0.2" transform="rotate(-90 323.945 537.2)">BCX.022</text>
<text x="333.37" y="537.20" font-size="6.95" text-anchor="start" fill="#222" stroke="#222" stroke-width="0.2" transform="rotate(-90 333.37499999999994 537.2)">XC5172013</text>
<text x="342.81" y="537.20" font-size="6.95" text-anchor="start" fill="#222" stroke="#222" stroke-width="0.2" transform="rotate(-90 342.805 537.2)">BCX.155</text>
<rect x="89.60" y="540.40" width="9.43" height="9.50" fill="#eaa784"/>
<rect x="99.03" y="540.40" width="9.43" height="9.50" fill="#eaa784"/>
<rect x="108.46" y="540.40" width="9.43" height="9.50" fill="#f1d57c"/>
<rect x="117.89" y="540.40" width="9.43" height="9.50" fill="#f1d57c"/>
<rect x="127.32" y="540.40" width="9.43" height="9.50" fill="#8ce071"/>
<rect x="136.75" y="540.40" width="9.43" height="9.50" fill="#8ce071"/>
<rect x="146.18" y="540.40" width="9.43" height="9.50" fill="#8ce071"/>
<rect x="155.61" y="540.40" width="9.43" height="9.50" fill="#8ce071"/>
<rect x="165.04" y="540.40" width="9.43" height="9.50" fill="#8ce071"/>
<rect x="174.47" y="540.40" width="9.43" height="9.50" fill="#8ce071"/>
<rect x="183.90" y="540.40" width="9.43" height="9.50" fill="#8ce071"/>
<rect x="193.33" y="540.40" width="9.43" height="9.50" fill="#8ce071"/>
<rect x="202.76" y="540.40" width="9.43" height="9.50" fill="#8ce071"/>
<rect x="213.00" y="540.40" width="9.43" height="9.50" fill="#eaa784"/>
<rect x="222.43" y="540.40" width="9.43" height="9.50" fill="#eaa784"/>
<rect x="231.86" y="540.40" width="9.43" height="9.50" fill="#f1d57c"/>
<rect x="241.29" y="540.40" width="9.43" height="9.50" fill="#f1d57c"/>
<rect x="250.72" y="540.40" width="9.43" height="9.50" fill="#f1d57c"/>
<rect x="260.15" y="540.40" width="9.43" height="9.50" fill="#f1d57c"/>
<rect x="269.58" y="540.40" width="9.43" height="9.50" fill="#f1d57c"/>
<rect x="279.01" y="540.40" width="9.43" height="9.50" fill="#8ce071"/>
<rect x="288.44" y="540.40" width="9.43" height="9.50" fill="#8ce071"/>
<rect x="297.87" y="540.40" width="9.43" height="9.50" fill="#8ce071"/>
<rect x="307.30" y="540.40" width="9.43" height="9.50" fill="#8ce071"/>
<rect x="316.73" y="540.40" width="9.43" height="9.50" fill="#8ce071"/>
<rect x="326.16" y="540.40" width="9.43" height="9.50" fill="#8ce071"/>
<rect x="335.59" y="540.40" width="9.43" height="9.50" fill="#8ce071"/>
<rect x="89.60" y="549.90" width="9.43" height="9.50" fill="#eaa784"/>
<rect x="99.03" y="549.90" width="9.43" height="9.50" fill="#eaa784"/>
<rect x="108.46" y="549.90" width="9.43" height="9.50" fill="#eaa784"/>
<rect x="117.89" y="549.90" width="9.43" height="9.50" fill="#eaa784"/>
<rect x="127.32" y="549.90" width="9.43" height="9.50" fill="#f1d57c"/>
<rect x="136.75" y="549.90" width="9.43" height="9.50" fill="#8ce071"/>
<rect x="146.18" y="549.90" width="9.43" height="9.50" fill="#f1d57c"/>
<rect x="155.61" y="549.90" width="9.43" height="9.50" fill="#eaa784"/>
<rect x="165.04" y="549.90" width="9.43" height="9.50" fill="#8ce071"/>
<rect x="174.47" y="549.90" width="9.43" height="9.50" fill="#f1d57c"/>
<rect x="183.90" y="549.90" width="9.43" height="9.50" fill="#eaa784"/>
<rect x="193.33" y="549.90" width="9.43" height="9.50" fill="#f1d57c"/>
<rect x="202.76" y="549.90" width="9.43" height="9.50" fill="#8ce071"/>
<rect x="213.00" y="549.90" width="9.43" height="9.50" fill="#eaa784"/>
<rect x="222.43" y="549.90" width="9.43" height="9.50" fill="#eaa784"/>
<rect x="231.86" y="549.90" width="9.43" height="9.50" fill="#8ce071"/>
<rect x="241.29" y="549.90" width="9.43" height="9.50" fill="#eaa784"/>
<rect x="250.72" y="549.90" width="9.43" height="9.50" fill="#f1d57c"/>
<rect x="260.15" y="549.90" width="9.43" height="9.50" fill="#eaa784"/>
<rect x="269.58" y="549.90" width="9.43" height="9.50" fill="#eaa784"/>
<rect x="279.01" y="549.90" width="9.43" height="9.50" fill="#eaa784"/>
<rect x="288.44" y="549.90" width="9.43" height="9.50" fill="#8ce071"/>
<rect x="297.87" y="549.90" width="9.43" height="9.50" fill="#8ce071"/>
<rect x="307.30" y="549.90" width="9.43" height="9.50" fill="#f1d57c"/>
<rect x="316.73" y="549.90" width="9.43" height="9.50" fill="#8ce071"/>
<rect x="326.16" y="549.90" width="9.43" height="9.50" fill="#eaa784"/>
<rect x="335.59" y="549.90" width="9.43" height="9.50" fill="#8ce071"/>
<rect x="89.60" y="559.40" width="9.43" height="9.50" fill="#eaa784"/>
<rect x="99.03" y="559.40" width="9.43" height="9.50" fill="#eaa784"/>
<rect x="108.46" y="559.40" width="9.43" height="9.50" fill="#e8e8e8"/>
<rect x="117.89" y="559.40" width="9.43" height="9.50" fill="#eaa784"/>
<rect x="127.32" y="559.40" width="9.43" height="9.50" fill="#eaa784"/>
<rect x="136.75" y="559.40" width="9.43" height="9.50" fill="#eaa784"/>
<rect x="146.18" y="559.40" width="9.43" height="9.50" fill="#eaa784"/>
<rect x="155.61" y="559.40" width="9.43" height="9.50" fill="#e8e8e8"/>
<rect x="165.04" y="559.40" width="9.43" height="9.50" fill="#f1d57c"/>
<rect x="174.47" y="559.40" width="9.43" height="9.50" fill="#eaa784"/>
<rect x="183.90" y="559.40" width="9.43" height="9.50" fill="#eaa784"/>
<rect x="193.33" y="559.40" width="9.43" height="9.50" fill="#eaa784"/>
<rect x="202.76" y="559.40" width="9.43" height="9.50" fill="#8ce071"/>
<rect x="213.00" y="559.40" width="9.43" height="9.50" fill="#eaa784"/>
<rect x="222.43" y="559.40" width="9.43" height="9.50" fill="#eaa784"/>
<rect x="231.86" y="559.40" width="9.43" height="9.50" fill="#eaa784"/>
<rect x="241.29" y="559.40" width="9.43" height="9.50" fill="#eaa784"/>
<rect x="250.72" y="559.40" width="9.43" height="9.50" fill="#f1d57c"/>
<rect x="260.15" y="559.40" width="9.43" height="9.50" fill="#f1d57c"/>
<rect x="269.58" y="559.40" width="9.43" height="9.50" fill="#eaa784"/>
<rect x="279.01" y="559.40" width="9.43" height="9.50" fill="#eaa784"/>
<rect x="288.44" y="559.40" width="9.43" height="9.50" fill="#8ce071"/>
<rect x="297.87" y="559.40" width="9.43" height="9.50" fill="#eaa784"/>
<rect x="307.30" y="559.40" width="9.43" height="9.50" fill="#f1d57c"/>
<rect x="316.73" y="559.40" width="9.43" height="9.50" fill="#eaa784"/>
<rect x="326.16" y="559.40" width="9.43" height="9.50" fill="#eaa784"/>
<rect x="335.59" y="559.40" width="9.43" height="9.50" fill="#8ce071"/>
<rect x="89.60" y="568.90" width="9.43" height="9.50" fill="#2c5d88"/>
<rect x="99.03" y="568.90" width="9.43" height="9.50" fill="#2c5d88"/>
<rect x="108.46" y="568.90" width="9.43" height="9.50" fill="#dde78b"/>
<rect x="117.89" y="568.90" width="9.43" height="9.50" fill="#2c5d88"/>
<rect x="127.32" y="568.90" width="9.43" height="9.50" fill="#dde78b"/>
<rect x="136.75" y="568.90" width="9.43" height="9.50" fill="#2c5d88"/>
<rect x="146.18" y="568.90" width="9.43" height="9.50" fill="#dde78b"/>
<rect x="155.61" y="568.90" width="9.43" height="9.50" fill="#dde78b"/>
<rect x="165.04" y="568.90" width="9.43" height="9.50" fill="#dde78b"/>
<rect x="174.47" y="568.90" width="9.43" height="9.50" fill="#2c5d88"/>
<rect x="183.90" y="568.90" width="9.43" height="9.50" fill="#dde78b"/>
<rect x="193.33" y="568.90" width="9.43" height="9.50" fill="#dde78b"/>
<rect x="202.76" y="568.90" width="9.43" height="9.50" fill="#dde78b"/>
<rect x="213.00" y="568.90" width="9.43" height="9.50" fill="#2c5d88"/>
<rect x="222.43" y="568.90" width="9.43" height="9.50" fill="#2c5d88"/>
<rect x="231.86" y="568.90" width="9.43" height="9.50" fill="#2c5d88"/>
<rect x="241.29" y="568.90" width="9.43" height="9.50" fill="#2c5d88"/>
<rect x="250.72" y="568.90" width="9.43" height="9.50" fill="#2c5d88"/>
<rect x="260.15" y="568.90" width="9.43" height="9.50" fill="#2c5d88"/>
<rect x="269.58" y="568.90" width="9.43" height="9.50" fill="#dde78b"/>
<rect x="279.01" y="568.90" width="9.43" height="9.50" fill="#2c5d88"/>
<rect x="288.44" y="568.90" width="9.43" height="9.50" fill="#2c5d88"/>
<rect x="297.87" y="568.90" width="9.43" height="9.50" fill="#2c5d88"/>
<rect x="307.30" y="568.90" width="9.43" height="9.50" fill="#2c5d88"/>
<rect x="316.73" y="568.90" width="9.43" height="9.50" fill="#2c5d88"/>
<rect x="326.16" y="568.90" width="9.43" height="9.50" fill="#2c5d88"/>
<rect x="335.59" y="568.90" width="9.43" height="9.50" fill="#2c5d88"/>
<rect x="89.60" y="587.00" width="9.43" height="9.60" fill="#3b82a4"/>
<rect x="99.03" y="587.00" width="9.43" height="9.60" fill="#3b82a4"/>
<rect x="108.46" y="587.00" width="9.43" height="9.60" fill="#3b82a4"/>
<rect x="117.89" y="587.00" width="9.43" height="9.60" fill="#f2a3a7"/>
<rect x="127.32" y="587.00" width="9.43" height="9.60" fill="#73d3ef"/>
<rect x="136.75" y="587.00" width="9.43" height="9.60" fill="#f2a3a7"/>
<rect x="146.18" y="587.00" width="9.43" height="9.60" fill="#ffffff"/>
<rect x="155.61" y="587.00" width="9.43" height="9.60" fill="#ffffff"/>
<rect x="165.04" y="587.00" width="9.43" height="9.60" fill="#ffffff"/>
<rect x="174.47" y="587.00" width="9.43" height="9.60" fill="#73d3ef"/>
<rect x="183.90" y="587.00" width="9.43" height="9.60" fill="#ffffff"/>
<rect x="193.33" y="587.00" width="9.43" height="9.60" fill="#f2a3a7"/>
<rect x="202.76" y="587.00" width="9.43" height="9.60" fill="#ffffff"/>
<rect x="213.00" y="587.00" width="9.43" height="9.60" fill="#f2a3a7"/>
<rect x="222.43" y="587.00" width="9.43" height="9.60" fill="#3b82a4"/>
<rect x="231.86" y="587.00" width="9.43" height="9.60" fill="#73d3ef"/>
<rect x="241.29" y="587.00" width="9.43" height="9.60" fill="#ffffff"/>
<rect x="250.72" y="587.00" width="9.43" height="9.60" fill="#3b82a4"/>
<rect x="260.15" y="587.00" width="9.43" height="9.60" fill="#ffffff"/>
<rect x="269.58" y="587.00" width="9.43" height="9.60" fill="#73d3ef"/>
<rect x="279.01" y="587.00" width="9.43" height="9.60" fill="#73d3ef"/>
<rect x="288.44" y="587.00" width="9.43" height="9.60" fill="#ffffff"/>
<rect x="297.87" y="587.00" width="9.43" height="9.60" fill="#ffffff"/>
<rect x="307.30" y="587.00" width="9.43" height="9.60" fill="#ffffff"/>
<rect x="316.73" y="587.00" width="9.43" height="9.60" fill="#f2a3a7"/>
<rect x="326.16" y="587.00" width="9.43" height="9.60" fill="#73d3ef"/>
<rect x="335.59" y="587.00" width="9.43" height="9.60" fill="#ffffff"/>
<rect x="89.60" y="596.60" width="9.43" height="9.60" fill="#ffffff"/>
<rect x="99.03" y="596.60" width="9.43" height="9.60" fill="#3b82a4"/>
<rect x="108.46" y="596.60" width="9.43" height="9.60" fill="#ffffff"/>
<rect x="117.89" y="596.60" width="9.43" height="9.60" fill="#ffffff"/>
<rect x="127.32" y="596.60" width="9.43" height="9.60" fill="#f2a3a7"/>
<rect x="136.75" y="596.60" width="9.43" height="9.60" fill="#3b82a4"/>
<rect x="146.18" y="596.60" width="9.43" height="9.60" fill="#f2a3a7"/>
<rect x="155.61" y="596.60" width="9.43" height="9.60" fill="#f2a3a7"/>
<rect x="165.04" y="596.60" width="9.43" height="9.60" fill="#f2a3a7"/>
<rect x="174.47" y="596.60" width="9.43" height="9.60" fill="#ffffff"/>
<rect x="183.90" y="596.60" width="9.43" height="9.60" fill="#ffffff"/>
<rect x="193.33" y="596.60" width="9.43" height="9.60" fill="#f2a3a7"/>
<rect x="202.76" y="596.60" width="9.43" height="9.60" fill="#f2a3a7"/>
<rect x="213.00" y="596.60" width="9.43" height="9.60" fill="#73d3ef"/>
<rect x="222.43" y="596.60" width="9.43" height="9.60" fill="#ffffff"/>
<rect x="231.86" y="596.60" width="9.43" height="9.60" fill="#3b82a4"/>
<rect x="241.29" y="596.60" width="9.43" height="9.60" fill="#ffffff"/>
<rect x="250.72" y="596.60" width="9.43" height="9.60" fill="#3b82a4"/>
<rect x="260.15" y="596.60" width="9.43" height="9.60" fill="#ffffff"/>
<rect x="269.58" y="596.60" width="9.43" height="9.60" fill="#ffffff"/>
<rect x="279.01" y="596.60" width="9.43" height="9.60" fill="#3b82a4"/>
<rect x="288.44" y="596.60" width="9.43" height="9.60" fill="#ffffff"/>
<rect x="297.87" y="596.60" width="9.43" height="9.60" fill="#73d3ef"/>
<rect x="307.30" y="596.60" width="9.43" height="9.60" fill="#f2a3a7"/>
<rect x="316.73" y="596.60" width="9.43" height="9.60" fill="#ffffff"/>
<rect x="326.16" y="596.60" width="9.43" height="9.60" fill="#ffffff"/>
<rect x="335.59" y="596.60" width="9.43" height="9.60" fill="#ffffff"/>
<rect x="89.60" y="606.20" width="9.43" height="9.60" fill="#f2a3a7"/>
<rect x="99.03" y="606.20" width="9.43" height="9.60" fill="#ffffff"/>
<rect x="108.46" y="606.20" width="9.43" height="9.60" fill="#73d3ef"/>
<rect x="117.89" y="606.20" width="9.43" height="9.60" fill="#3b82a4"/>
<rect x="127.32" y="606.20" width="9.43" height="9.60" fill="#f2a3a7"/>
<rect x="136.75" y="606.20" width="9.43" height="9.60" fill="#f2a3a7"/>
<rect x="146.18" y="606.20" width="9.43" height="9.60" fill="#ffffff"/>
<rect x="155.61" y="606.20" width="9.43" height="9.60" fill="#ffffff"/>
<rect x="165.04" y="606.20" width="9.43" height="9.60" fill="#73d3ef"/>
<rect x="174.47" y="606.20" width="9.43" height="9.60" fill="#f2a3a7"/>
<rect x="183.90" y="606.20" width="9.43" height="9.60" fill="#73d3ef"/>
<rect x="193.33" y="606.20" width="9.43" height="9.60" fill="#3b82a4"/>
<rect x="202.76" y="606.20" width="9.43" height="9.60" fill="#ffffff"/>
<rect x="213.00" y="606.20" width="9.43" height="9.60" fill="#ffffff"/>
<rect x="222.43" y="606.20" width="9.43" height="9.60" fill="#f2a3a7"/>
<rect x="231.86" y="606.20" width="9.43" height="9.60" fill="#f2a3a7"/>
<rect x="241.29" y="606.20" width="9.43" height="9.60" fill="#f2a3a7"/>
<rect x="250.72" y="606.20" width="9.43" height="9.60" fill="#f2a3a7"/>
<rect x="260.15" y="606.20" width="9.43" height="9.60" fill="#f2a3a7"/>
<rect x="269.58" y="606.20" width="9.43" height="9.60" fill="#f2a3a7"/>
<rect x="279.01" y="606.20" width="9.43" height="9.60" fill="#f2a3a7"/>
<rect x="288.44" y="606.20" width="9.43" height="9.60" fill="#f2a3a7"/>
<rect x="297.87" y="606.20" width="9.43" height="9.60" fill="#f2a3a7"/>
<rect x="307.30" y="606.20" width="9.43" height="9.60" fill="#ffffff"/>
<rect x="316.73" y="606.20" width="9.43" height="9.60" fill="#f2a3a7"/>
<rect x="326.16" y="606.20" width="9.43" height="9.60" fill="#3b82a4"/>
<rect x="335.59" y="606.20" width="9.43" height="9.60" fill="#ffffff"/>
<rect x="89.60" y="615.80" width="9.43" height="9.60" fill="#ffffff"/>
<rect x="99.03" y="615.80" width="9.43" height="9.60" fill="#ffffff"/>
<rect x="108.46" y="615.80" width="9.43" height="9.60" fill="#73d3ef"/>
<rect x="117.89" y="615.80" width="9.43" height="9.60" fill="#3b82a4"/>
<rect x="127.32" y="615.80" width="9.43" height="9.60" fill="#f2a3a7"/>
<rect x="136.75" y="615.80" width="9.43" height="9.60" fill="#ffffff"/>
<rect x="146.18" y="615.80" width="9.43" height="9.60" fill="#73d3ef"/>
<rect x="155.61" y="615.80" width="9.43" height="9.60" fill="#ffffff"/>
<rect x="165.04" y="615.80" width="9.43" height="9.60" fill="#3b82a4"/>
<rect x="174.47" y="615.80" width="9.43" height="9.60" fill="#f2a3a7"/>
<rect x="183.90" y="615.80" width="9.43" height="9.60" fill="#ffffff"/>
<rect x="193.33" y="615.80" width="9.43" height="9.60" fill="#ffffff"/>
<rect x="202.76" y="615.80" width="9.43" height="9.60" fill="#ffffff"/>
<rect x="213.00" y="615.80" width="9.43" height="9.60" fill="#3b82a4"/>
<rect x="222.43" y="615.80" width="9.43" height="9.60" fill="#f2a3a7"/>
<rect x="231.86" y="615.80" width="9.43" height="9.60" fill="#73d3ef"/>
<rect x="241.29" y="615.80" width="9.43" height="9.60" fill="#ffffff"/>
<rect x="250.72" y="615.80" width="9.43" height="9.60" fill="#ffffff"/>
<rect x="260.15" y="615.80" width="9.43" height="9.60" fill="#73d3ef"/>
<rect x="269.58" y="615.80" width="9.43" height="9.60" fill="#ffffff"/>
<rect x="279.01" y="615.80" width="9.43" height="9.60" fill="#f2a3a7"/>
<rect x="288.44" y="615.80" width="9.43" height="9.60" fill="#ffffff"/>
<rect x="297.87" y="615.80" width="9.43" height="9.60" fill="#f2a3a7"/>
<rect x="307.30" y="615.80" width="9.43" height="9.60" fill="#ffffff"/>
<rect x="316.73" y="615.80" width="9.43" height="9.60" fill="#ffffff"/>
<rect x="326.16" y="615.80" width="9.43" height="9.60" fill="#ffffff"/>
<rect x="335.59" y="615.80" width="9.43" height="9.60" fill="#3b82a4"/>
<rect x="89.60" y="625.40" width="9.43" height="9.60" fill="#ffffff"/>
<rect x="99.03" y="625.40" width="9.43" height="9.60" fill="#ffffff"/>
<rect x="108.46" y="625.40" width="9.43" height="9.60" fill="#ffffff"/>
<rect x="117.89" y="625.40" width="9.43" height="9.60" fill="#ffffff"/>
<rect x="127.32" y="625.40" width="9.43" height="9.60" fill="#ffffff"/>
<rect x="136.75" y="625.40" width="9.43" height="9.60" fill="#ffffff"/>
<rect x="146.18" y="625.40" width="9.43" height="9.60" fill="#ffffff"/>
<rect x="155.61" y="625.40" width="9.43" height="9.60" fill="#ffffff"/>
<rect x="165.04" y="625.40" width="9.43" height="9.60" fill="#ffffff"/>
<rect x="174.47" y="625.40" width="9.43" height="9.60" fill="#ffffff"/>
<rect x="183.90" y="625.40" width="9.43" height="9.60" fill="#ffffff"/>
<rect x="193.33" y="625.40" width="9.43" height="9.60" fill="#ffffff"/>
<rect x="202.76" y="625.40" width="9.43" height="9.60" fill="#ffffff"/>
<rect x="213.00" y="625.40" width="9.43" height="9.60" fill="#ffffff"/>
<rect x="222.43" y="625.40" width="9.43" height="9.60" fill="#ffffff"/>
<rect x="231.86" y="625.40" width="9.43" height="9.60" fill="#ffffff"/>
<rect x="241.29" y="625.40" width="9.43" height="9.60" fill="#ffffff"/>
<rect x="250.72" y="625.40" width="9.43" height="9.60" fill="#ffffff"/>
<rect x="260.15" y="625.40" width="9.43" height="9.60" fill="#ffffff"/>
<rect x="269.58" y="625.40" width="9.43" height="9.60" fill="#ffffff"/>
<rect x="279.01" y="625.40" width="9.43" height="9.60" fill="#ffffff"/>
<rect x="288.44" y="625.40" width="9.43" height="9.60" fill="#ffffff"/>
<rect x="297.87" y="625.40" width="9.43" height="9.60" fill="#e8e8e8"/>
<rect x="307.30" y="625.40" width="9.43" height="9.60" fill="#ffffff"/>
<rect x="316.73" y="625.40" width="9.43" height="9.60" fill="#ffffff"/>
<rect x="326.16" y="625.40" width="9.43" height="9.60" fill="#e8e8e8"/>
<rect x="335.59" y="625.40" width="9.43" height="9.60" fill="#ffffff"/>
<rect x="89.60" y="635.00" width="9.43" height="9.60" fill="#ffffff"/>
<rect x="99.03" y="635.00" width="9.43" height="9.60" fill="#ffffff"/>
<rect x="108.46" y="635.00" width="9.43" height="9.60" fill="#ffffff"/>
<rect x="117.89" y="635.00" width="9.43" height="9.60" fill="#ffffff"/>
<rect x="127.32" y="635.00" width="9.43" height="9.60" fill="#ffffff"/>
<rect x="136.75" y="635.00" width="9.43" height="9.60" fill="#ffffff"/>
<rect x="146.18" y="635.00" width="9.43" height="9.60" fill="#ffffff"/>
<rect x="155.61" y="635.00" width="9.43" height="9.60" fill="#ffffff"/>
<rect x="165.04" y="635.00" width="9.43" height="9.60" fill="#ffffff"/>
<rect x="174.47" y="635.00" width="9.43" height="9.60" fill="#ffffff"/>
<rect x="183.90" y="635.00" width="9.43" height="9.60" fill="#ffffff"/>
<rect x="193.33" y="635.00" width="9.43" height="9.60" fill="#ffffff"/>
<rect x="202.76" y="635.00" width="9.43" height="9.60" fill="#ffffff"/>
<rect x="213.00" y="635.00" width="9.43" height="9.60" fill="#ffffff"/>
<rect x="222.43" y="635.00" width="9.43" height="9.60" fill="#ffffff"/>
<rect x="231.86" y="635.00" width="9.43" height="9.60" fill="#ffffff"/>
<rect x="241.29" y="635.00" width="9.43" height="9.60" fill="#ffffff"/>
<rect x="250.72" y="635.00" width="9.43" height="9.60" fill="#ffffff"/>
<rect x="260.15" y="635.00" width="9.43" height="9.60" fill="#ffffff"/>
<rect x="269.58" y="635.00" width="9.43" height="9.60" fill="#ffffff"/>
<rect x="279.01" y="635.00" width="9.43" height="9.60" fill="#ffffff"/>
<rect x="288.44" y="635.00" width="9.43" height="9.60" fill="#ffffff"/>
<rect x="297.87" y="635.00" width="9.43" height="9.60" fill="#e8e8e8"/>
<rect x="307.30" y="635.00" width="9.43" height="9.60" fill="#ffffff"/>
<rect x="316.73" y="635.00" width="9.43" height="9.60" fill="#ffffff"/>
<rect x="326.16" y="635.00" width="9.43" height="9.60" fill="#e8e8e8"/>
<rect x="335.59" y="635.00" width="9.43" height="9.60" fill="#ffffff"/>
<rect x="89.60" y="644.60" width="9.43" height="9.60" fill="#ffffff"/>
<rect x="99.03" y="644.60" width="9.43" height="9.60" fill="#ffffff"/>
<rect x="108.46" y="644.60" width="9.43" height="9.60" fill="#ffffff"/>
<rect x="117.89" y="644.60" width="9.43" height="9.60" fill="#ffffff"/>
<rect x="127.32" y="644.60" width="9.43" height="9.60" fill="#ffffff"/>
<rect x="136.75" y="644.60" width="9.43" height="9.60" fill="#ffffff"/>
<rect x="146.18" y="644.60" width="9.43" height="9.60" fill="#ffffff"/>
<rect x="155.61" y="644.60" width="9.43" height="9.60" fill="#ffffff"/>
<rect x="165.04" y="644.60" width="9.43" height="9.60" fill="#ffffff"/>
<rect x="174.47" y="644.60" width="9.43" height="9.60" fill="#ffffff"/>
<rect x="183.90" y="644.60" width="9.43" height="9.60" fill="#ffffff"/>
<rect x="193.33" y="644.60" width="9.43" height="9.60" fill="#ffffff"/>
<rect x="202.76" y="644.60" width="9.43" height="9.60" fill="#ffffff"/>
<rect x="213.00" y="644.60" width="9.43" height="9.60" fill="#ffffff"/>
<rect x="222.43" y="644.60" width="9.43" height="9.60" fill="#ffffff"/>
<rect x="231.86" y="644.60" width="9.43" height="9.60" fill="#ffffff"/>
<rect x="241.29" y="644.60" width="9.43" height="9.60" fill="#ffffff"/>
<rect x="250.72" y="644.60" width="9.43" height="9.60" fill="#ffffff"/>
<rect x="260.15" y="644.60" width="9.43" height="9.60" fill="#ffffff"/>
<rect x="269.58" y="644.60" width="9.43" height="9.60" fill="#ffffff"/>
<rect x="279.01" y="644.60" width="9.43" height="9.60" fill="#ffffff"/>
<rect x="288.44" y="644.60" width="9.43" height="9.60" fill="#ffffff"/>
<rect x="297.87" y="644.60" width="9.43" height="9.60" fill="#e8e8e8"/>
<rect x="307.30" y="644.60" width="9.43" height="9.60" fill="#ffffff"/>
<rect x="316.73" y="644.60" width="9.43" height="9.60" fill="#ffffff"/>
<rect x="326.16" y="644.60" width="9.43" height="9.60" fill="#e8e8e8"/>
<rect x="335.59" y="644.60" width="9.43" height="9.60" fill="#ffffff"/>
<rect x="89.60" y="654.20" width="9.43" height="9.60" fill="#ffffff"/>
<rect x="99.03" y="654.20" width="9.43" height="9.60" fill="#ffffff"/>
<rect x="108.46" y="654.20" width="9.43" height="9.60" fill="#ffffff"/>
<rect x="117.89" y="654.20" width="9.43" height="9.60" fill="#ffffff"/>
<rect x="127.32" y="654.20" width="9.43" height="9.60" fill="#ffffff"/>
<rect x="136.75" y="654.20" width="9.43" height="9.60" fill="#ffffff"/>
<rect x="146.18" y="654.20" width="9.43" height="9.60" fill="#ffffff"/>
<rect x="155.61" y="654.20" width="9.43" height="9.60" fill="#ffffff"/>
<rect x="165.04" y="654.20" width="9.43" height="9.60" fill="#ffffff"/>
<rect x="174.47" y="654.20" width="9.43" height="9.60" fill="#ffffff"/>
<rect x="183.90" y="654.20" width="9.43" height="9.60" fill="#ffffff"/>
<rect x="193.33" y="654.20" width="9.43" height="9.60" fill="#ffffff"/>
<rect x="202.76" y="654.20" width="9.43" height="9.60" fill="#ffffff"/>
<rect x="213.00" y="654.20" width="9.43" height="9.60" fill="#ffffff"/>
<rect x="222.43" y="654.20" width="9.43" height="9.60" fill="#ffffff"/>
<rect x="231.86" y="654.20" width="9.43" height="9.60" fill="#ffffff"/>
<rect x="241.29" y="654.20" width="9.43" height="9.60" fill="#ffffff"/>
<rect x="250.72" y="654.20" width="9.43" height="9.60" fill="#ffffff"/>
<rect x="260.15" y="654.20" width="9.43" height="9.60" fill="#ffffff"/>
<rect x="269.58" y="654.20" width="9.43" height="9.60" fill="#ffffff"/>
<rect x="279.01" y="654.20" width="9.43" height="9.60" fill="#ffffff"/>
<rect x="288.44" y="654.20" width="9.43" height="9.60" fill="#ffffff"/>
<rect x="297.87" y="654.20" width="9.43" height="9.60" fill="#e8e8e8"/>
<rect x="307.30" y="654.20" width="9.43" height="9.60" fill="#ffffff"/>
<rect x="316.73" y="654.20" width="9.43" height="9.60" fill="#ffffff"/>
<rect x="326.16" y="654.20" width="9.43" height="9.60" fill="#e8e8e8"/>
<rect x="335.59" y="654.20" width="9.43" height="9.60" fill="#ffffff"/>
<rect x="89.60" y="663.80" width="9.43" height="9.60" fill="#ffffff"/>
<rect x="99.03" y="663.80" width="9.43" height="9.60" fill="#ffffff"/>
<rect x="108.46" y="663.80" width="9.43" height="9.60" fill="#ffffff"/>
<rect x="117.89" y="663.80" width="9.43" height="9.60" fill="#ffffff"/>
<rect x="127.32" y="663.80" width="9.43" height="9.60" fill="#ffffff"/>
<rect x="136.75" y="663.80" width="9.43" height="9.60" fill="#ffffff"/>
<rect x="146.18" y="663.80" width="9.43" height="9.60" fill="#ffffff"/>
<rect x="155.61" y="663.80" width="9.43" height="9.60" fill="#ffffff"/>
<rect x="165.04" y="663.80" width="9.43" height="9.60" fill="#ffffff"/>
<rect x="174.47" y="663.80" width="9.43" height="9.60" fill="#ffffff"/>
<rect x="183.90" y="663.80" width="9.43" height="9.60" fill="#ffffff"/>
<rect x="193.33" y="663.80" width="9.43" height="9.60" fill="#ffffff"/>
<rect x="202.76" y="663.80" width="9.43" height="9.60" fill="#ffffff"/>
<rect x="213.00" y="663.80" width="9.43" height="9.60" fill="#ffffff"/>
<rect x="222.43" y="663.80" width="9.43" height="9.60" fill="#ffffff"/>
<rect x="231.86" y="663.80" width="9.43" height="9.60" fill="#ffffff"/>
<rect x="241.29" y="663.80" width="9.43" height="9.60" fill="#ffffff"/>
<rect x="250.72" y="663.80" width="9.43" height="9.60" fill="#ffffff"/>
<rect x="260.15" y="663.80" width="9.43" height="9.60" fill="#ffffff"/>
<rect x="269.58" y="663.80" width="9.43" height="9.60" fill="#ffffff"/>
<rect x="279.01" y="663.80" width="9.43" height="9.60" fill="#ffffff"/>
<rect x="288.44" y="663.80" width="9.43" height="9.60" fill="#ffffff"/>
<rect x="297.87" y="663.80" width="9.43" height="9.60" fill="#e8e8e8"/>
<rect x="307.30" y="663.80" width="9.43" height="9.60" fill="#ffffff"/>
<rect x="316.73" y="663.80" width="9.43" height="9.60" fill="#ffffff"/>
<rect x="326.16" y="663.80" width="9.43" height="9.60" fill="#e8e8e8"/>
<rect x="335.59" y="663.80" width="9.43" height="9.60" fill="#ffffff"/>
<rect x="89.60" y="673.40" width="9.43" height="9.60" fill="#ffffff"/>
<rect x="99.03" y="673.40" width="9.43" height="9.60" fill="#f2a3a7"/>
<rect x="108.46" y="673.40" width="9.43" height="9.60" fill="#f2a3a7"/>
<rect x="117.89" y="673.40" width="9.43" height="9.60" fill="#ffffff"/>
<rect x="127.32" y="673.40" width="9.43" height="9.60" fill="#ffffff"/>
<rect x="136.75" y="673.40" width="9.43" height="9.60" fill="#f2a3a7"/>
<rect x="146.18" y="673.40" width="9.43" height="9.60" fill="#ffffff"/>
<rect x="155.61" y="673.40" width="9.43" height="9.60" fill="#ffffff"/>
<rect x="165.04" y="673.40" width="9.43" height="9.60" fill="#f2a3a7"/>
<rect x="174.47" y="673.40" width="9.43" height="9.60" fill="#ffffff"/>
<rect x="183.90" y="673.40" width="9.43" height="9.60" fill="#f2a3a7"/>
<rect x="193.33" y="673.40" width="9.43" height="9.60" fill="#f2a3a7"/>
<rect x="202.76" y="673.40" width="9.43" height="9.60" fill="#f2a3a7"/>
<rect x="213.00" y="673.40" width="9.43" height="9.60" fill="#ffffff"/>
<rect x="222.43" y="673.40" width="9.43" height="9.60" fill="#f2a3a7"/>
<rect x="231.86" y="673.40" width="9.43" height="9.60" fill="#ffffff"/>
<rect x="241.29" y="673.40" width="9.43" height="9.60" fill="#ffffff"/>
<rect x="250.72" y="673.40" width="9.43" height="9.60" fill="#ffffff"/>
<rect x="260.15" y="673.40" width="9.43" height="9.60" fill="#f2a3a7"/>
<rect x="269.58" y="673.40" width="9.43" height="9.60" fill="#f2a3a7"/>
<rect x="279.01" y="673.40" width="9.43" height="9.60" fill="#f2a3a7"/>
<rect x="288.44" y="673.40" width="9.43" height="9.60" fill="#f2a3a7"/>
<rect x="297.87" y="673.40" width="9.43" height="9.60" fill="#f2a3a7"/>
<rect x="307.30" y="673.40" width="9.43" height="9.60" fill="#ffffff"/>
<rect x="316.73" y="673.40" width="9.43" height="9.60" fill="#f2a3a7"/>
<rect x="326.16" y="673.40" width="9.43" height="9.60" fill="#f2a3a7"/>
<rect x="335.59" y="673.40" width="9.43" height="9.60" fill="#ffffff"/>
<rect x="89.60" y="683.00" width="9.43" height="9.60" fill="#ffffff"/>
<rect x="99.03" y="683.00" width="9.43" height="9.60" fill="#f2a3a7"/>
<rect x="108.46" y="683.00" width="9.43" height="9.60" fill="#f2a3a7"/>
<rect x="117.89" y="683.00" width="9.43" height="9.60" fill="#ffffff"/>
<rect x="127.32" y="683.00" width="9.43" height="9.60" fill="#ffffff"/>
<rect x="136.75" y="683.00" width="9.43" height="9.60" fill="#f2a3a7"/>
<rect x="146.18" y="683.00" width="9.43" height="9.60" fill="#ffffff"/>
<rect x="155.61" y="683.00" width="9.43" height="9.60" fill="#ffffff"/>
<rect x="165.04" y="683.00" width="9.43" height="9.60" fill="#ffffff"/>
<rect x="174.47" y="683.00" width="9.43" height="9.60" fill="#ffffff"/>
<rect x="183.90" y="683.00" width="9.43" height="9.60" fill="#ffffff"/>
<rect x="193.33" y="683.00" width="9.43" height="9.60" fill="#ffffff"/>
<rect x="202.76" y="683.00" width="9.43" height="9.60" fill="#ffffff"/>
<rect x="213.00" y="683.00" width="9.43" height="9.60" fill="#f2a3a7"/>
<rect x="222.43" y="683.00" width="9.43" height="9.60" fill="#ffffff"/>
<rect x="231.86" y="683.00" width="9.43" height="9.60" fill="#ffffff"/>
<rect x="241.29" y="683.00" width="9.43" height="9.60" fill="#ffffff"/>
<rect x="250.72" y="683.00" width="9.43" height="9.60" fill="#ffffff"/>
<rect x="260.15" y="683.00" width="9.43" height="9.60" fill="#ffffff"/>
<rect x="269.58" y="683.00" width="9.43" height="9.60" fill="#ffffff"/>
<rect x="279.01" y="683.00" width="9.43" height="9.60" fill="#ffffff"/>
<rect x="288.44" y="683.00" width="9.43" height="9.60" fill="#f2a3a7"/>
<rect x="297.87" y="683.00" width="9.43" height="9.60" fill="#ffffff"/>
<rect x="307.30" y="683.00" width="9.43" height="9.60" fill="#f2a3a7"/>
<rect x="316.73" y="683.00" width="9.43" height="9.60" fill="#ffffff"/>
<rect x="326.16" y="683.00" width="9.43" height="9.60" fill="#f2a3a7"/>
<rect x="335.59" y="683.00" width="9.43" height="9.60" fill="#ffffff"/>
<rect x="89.60" y="692.60" width="9.43" height="9.60" fill="#ffffff"/>
<rect x="99.03" y="692.60" width="9.43" height="9.60" fill="#ffffff"/>
<rect x="108.46" y="692.60" width="9.43" height="9.60" fill="#ffffff"/>
<rect x="117.89" y="692.60" width="9.43" height="9.60" fill="#ffffff"/>
<rect x="127.32" y="692.60" width="9.43" height="9.60" fill="#ffffff"/>
<rect x="136.75" y="692.60" width="9.43" height="9.60" fill="#ffffff"/>
<rect x="146.18" y="692.60" width="9.43" height="9.60" fill="#ffffff"/>
<rect x="155.61" y="692.60" width="9.43" height="9.60" fill="#ffffff"/>
<rect x="165.04" y="692.60" width="9.43" height="9.60" fill="#ffffff"/>
<rect x="174.47" y="692.60" width="9.43" height="9.60" fill="#ffffff"/>
<rect x="183.90" y="692.60" width="9.43" height="9.60" fill="#ffffff"/>
<rect x="193.33" y="692.60" width="9.43" height="9.60" fill="#ffffff"/>
<rect x="202.76" y="692.60" width="9.43" height="9.60" fill="#ffffff"/>
<rect x="213.00" y="692.60" width="9.43" height="9.60" fill="#ffffff"/>
<rect x="222.43" y="692.60" width="9.43" height="9.60" fill="#ffffff"/>
<rect x="231.86" y="692.60" width="9.43" height="9.60" fill="#ffffff"/>
<rect x="241.29" y="692.60" width="9.43" height="9.60" fill="#ffffff"/>
<rect x="250.72" y="692.60" width="9.43" height="9.60" fill="#ffffff"/>
<rect x="260.15" y="692.60" width="9.43" height="9.60" fill="#ffffff"/>
<rect x="269.58" y="692.60" width="9.43" height="9.60" fill="#ffffff"/>
<rect x="279.01" y="692.60" width="9.43" height="9.60" fill="#ffffff"/>
<rect x="288.44" y="692.60" width="9.43" height="9.60" fill="#ffffff"/>
<rect x="297.87" y="692.60" width="9.43" height="9.60" fill="#ffffff"/>
<rect x="307.30" y="692.60" width="9.43" height="9.60" fill="#f2a3a7"/>
<rect x="316.73" y="692.60" width="9.43" height="9.60" fill="#ffffff"/>
<rect x="326.16" y="692.60" width="9.43" height="9.60" fill="#ffffff"/>
<rect x="335.59" y="692.60" width="9.43" height="9.60" fill="#ffffff"/>
<rect x="89.60" y="702.20" width="9.43" height="9.60" fill="#ffffff"/>
<rect x="99.03" y="702.20" width="9.43" height="9.60" fill="#ffffff"/>
<rect x="108.46" y="702.20" width="9.43" height="9.60" fill="#ffffff"/>
<rect x="117.89" y="702.20" width="9.43" height="9.60" fill="#ffffff"/>
<rect x="127.32" y="702.20" width="9.43" height="9.60" fill="#ffffff"/>
<rect x="136.75" y="702.20" width="9.43" height="9.60" fill="#ffffff"/>
<rect x="146.18" y="702.20" width="9.43" height="9.60" fill="#ffffff"/>
<rect x="155.61" y="702.20" width="9.43" height="9.60" fill="#ffffff"/>
<rect x="165.04" y="702.20" width="9.43" height="9.60" fill="#ffffff"/>
<rect x="174.47" y="702.20" width="9.43" height="9.60" fill="#ffffff"/>
<rect x="183.90" y="702.20" width="9.43" height="9.60" fill="#ffffff"/>
<rect x="193.33" y="702.20" width="9.43" height="9.60" fill="#ffffff"/>
<rect x="202.76" y="702.20" width="9.43" height="9.60" fill="#ffffff"/>
<rect x="213.00" y="702.20" width="9.43" height="9.60" fill="#ffffff"/>
<rect x="222.43" y="702.20" width="9.43" height="9.60" fill="#ffffff"/>
<rect x="231.86" y="702.20" width="9.43" height="9.60" fill="#ffffff"/>
<rect x="241.29" y="702.20" width="9.43" height="9.60" fill="#ffffff"/>
<rect x="250.72" y="702.20" width="9.43" height="9.60" fill="#ffffff"/>
<rect x="260.15" y="702.20" width="9.43" height="9.60" fill="#ffffff"/>
<rect x="269.58" y="702.20" width="9.43" height="9.60" fill="#ffffff"/>
<rect x="279.01" y="702.20" width="9.43" height="9.60" fill="#ffffff"/>
<rect x="288.44" y="702.20" width="9.43" height="9.60" fill="#ffffff"/>
<rect x="297.87" y="702.20" width="9.43" height="9.60" fill="#e8e8e8"/>
<rect x="307.30" y="702.20" width="9.43" height="9.60" fill="#ffffff"/>
<rect x="316.73" y="702.20" width="9.43" height="9.60" fill="#ffffff"/>
<rect x="326.16" y="702.20" width="9.43" height="9.60" fill="#e8e8e8"/>
<rect x="335.59" y="702.20" width="9.43" height="9.60" fill="#ffffff"/>
<rect x="89.60" y="711.80" width="9.43" height="9.60" fill="#ffffff"/>
<rect x="99.03" y="711.80" width="9.43" height="9.60" fill="#ffffff"/>
<rect x="108.46" y="711.80" width="9.43" height="9.60" fill="#ffffff"/>
<rect x="117.89" y="711.80" width="9.43" height="9.60" fill="#ffffff"/>
<rect x="127.32" y="711.80" width="9.43" height="9.60" fill="#ffffff"/>
<rect x="136.75" y="711.80" width="9.43" height="9.60" fill="#ffffff"/>
<rect x="146.18" y="711.80" width="9.43" height="9.60" fill="#ffffff"/>
<rect x="155.61" y="711.80" width="9.43" height="9.60" fill="#ffffff"/>
<rect x="165.04" y="711.80" width="9.43" height="9.60" fill="#ffffff"/>
<rect x="174.47" y="711.80" width="9.43" height="9.60" fill="#ffffff"/>
<rect x="183.90" y="711.80" width="9.43" height="9.60" fill="#ffffff"/>
<rect x="193.33" y="711.80" width="9.43" height="9.60" fill="#ffffff"/>
<rect x="202.76" y="711.80" width="9.43" height="9.60" fill="#ffffff"/>
<rect x="213.00" y="711.80" width="9.43" height="9.60" fill="#ffffff"/>
<rect x="222.43" y="711.80" width="9.43" height="9.60" fill="#ffffff"/>
<rect x="231.86" y="711.80" width="9.43" height="9.60" fill="#ffffff"/>
<rect x="241.29" y="711.80" width="9.43" height="9.60" fill="#ffffff"/>
<rect x="250.72" y="711.80" width="9.43" height="9.60" fill="#ffffff"/>
<rect x="260.15" y="711.80" width="9.43" height="9.60" fill="#ffffff"/>
<rect x="269.58" y="711.80" width="9.43" height="9.60" fill="#ffffff"/>
<rect x="279.01" y="711.80" width="9.43" height="9.60" fill="#ffffff"/>
<rect x="288.44" y="711.80" width="9.43" height="9.60" fill="#ffffff"/>
<rect x="297.87" y="711.80" width="9.43" height="9.60" fill="#e8e8e8"/>
<rect x="307.30" y="711.80" width="9.43" height="9.60" fill="#ffffff"/>
<rect x="316.73" y="711.80" width="9.43" height="9.60" fill="#ffffff"/>
<rect x="326.16" y="711.80" width="9.43" height="9.60" fill="#e8e8e8"/>
<rect x="335.59" y="711.80" width="9.43" height="9.60" fill="#ffffff"/>
<path d="M122.60,598.20 L125.80,601.40 L122.60,604.60 L119.40,601.40 Z" fill="#000"/>
<path d="M132.03,598.20 L135.23,601.40 L132.03,604.60 L128.84,601.40 Z" fill="#000"/>
<path d="M160.32,598.20 L163.52,601.40 L160.32,604.60 L157.12,601.40 Z" fill="#000"/>
<path d="M169.75,598.20 L172.95,601.40 L169.75,604.60 L166.56,601.40 Z" fill="#000"/>
<path d="M198.04,598.20 L201.24,601.40 L198.04,604.60 L194.84,601.40 Z" fill="#000"/>
<path d="M207.47,598.20 L210.67,601.40 L207.47,604.60 L204.28,601.40 Z" fill="#000"/>
<path d="M293.15,598.20 L296.35,601.40 L293.15,604.60 L289.95,601.40 Z" fill="#000"/>
<circle cx="122.60" cy="611.00" r="2.95" fill="none" stroke="#000" stroke-width="1.0"/>
<line x1="120.50" y1="608.90" x2="124.70" y2="613.10" stroke="#000" stroke-width="1.0"/>
<path d="M227.15,617.40 L230.34,620.60 L227.15,623.80 L223.95,620.60 Z" fill="#000"/>
<path d="M246.00,617.40 L249.20,620.60 L246.00,623.80 L242.81,620.60 Z" fill="#000"/>
<path d="M255.44,617.40 L258.63,620.60 L255.44,623.80 L252.24,620.60 Z" fill="#000"/>
<path d="M283.72,617.40 L286.92,620.60 L283.72,623.80 L280.52,620.60 Z" fill="#000"/>
<path d="M302.58,617.40 L305.78,620.60 L302.58,623.80 L299.38,620.60 Z" fill="#000"/>
<circle cx="179.19" cy="592.10" r="1.85" fill="#000"/>
<line x1="176.60" y1="591.03" x2="181.77" y2="593.17" stroke="#000" stroke-width="0.6"/>
<line x1="178.11" y1="589.51" x2="180.26" y2="594.69" stroke="#000" stroke-width="0.6"/>
<line x1="180.26" y1="589.51" x2="178.11" y2="594.69" stroke="#000" stroke-width="0.6"/>
<line x1="181.77" y1="591.03" x2="176.60" y2="593.17" stroke="#000" stroke-width="0.6"/>
<circle cx="94.31" cy="630.50" r="1.85" fill="#000"/>
<line x1="91.73" y1="629.43" x2="96.90" y2="631.57" stroke="#000" stroke-width="0.6"/>
<line x1="93.24" y1="627.91" x2="95.39" y2="633.09" stroke="#000" stroke-width="0.6"/>
<line x1="95.39" y1="627.91" x2="93.24" y2="633.09" stroke="#000" stroke-width="0.6"/>
<line x1="96.90" y1="629.43" x2="91.73" y2="631.57" stroke="#000" stroke-width="0.6"/>
<circle cx="103.75" cy="630.50" r="1.85" fill="#000"/>
<line x1="101.16" y1="629.43" x2="106.33" y2="631.57" stroke="#000" stroke-width="0.6"/>
<line x1="102.67" y1="627.91" x2="104.82" y2="633.09" stroke="#000" stroke-width="0.6"/>
<line x1="104.82" y1="627.91" x2="102.67" y2="633.09" stroke="#000" stroke-width="0.6"/>
<line x1="106.33" y1="629.43" x2="101.16" y2="631.57" stroke="#000" stroke-width="0.6"/>
<circle cx="122.60" cy="630.50" r="1.85" fill="#000"/>
<line x1="120.02" y1="629.43" x2="125.19" y2="631.57" stroke="#000" stroke-width="0.6"/>
<line x1="121.53" y1="627.91" x2="123.68" y2="633.09" stroke="#000" stroke-width="0.6"/>
<line x1="123.68" y1="627.91" x2="121.53" y2="633.09" stroke="#000" stroke-width="0.6"/>
<line x1="125.19" y1="629.43" x2="120.02" y2="631.57" stroke="#000" stroke-width="0.6"/>
<circle cx="132.03" cy="630.50" r="1.85" fill="#000"/>
<line x1="129.45" y1="629.43" x2="134.62" y2="631.57" stroke="#000" stroke-width="0.6"/>
<line x1="130.96" y1="627.91" x2="133.11" y2="633.09" stroke="#000" stroke-width="0.6"/>
<line x1="133.11" y1="627.91" x2="130.96" y2="633.09" stroke="#000" stroke-width="0.6"/>
<line x1="134.62" y1="629.43" x2="129.45" y2="631.57" stroke="#000" stroke-width="0.6"/>
<circle cx="141.47" cy="630.50" r="1.85" fill="#000"/>
<line x1="138.88" y1="629.43" x2="144.05" y2="631.57" stroke="#000" stroke-width="0.6"/>
<line x1="140.39" y1="627.91" x2="142.54" y2="633.09" stroke="#000" stroke-width="0.6"/>
<line x1="142.54" y1="627.91" x2="140.39" y2="633.09" stroke="#000" stroke-width="0.6"/>
<line x1="144.05" y1="629.43" x2="138.88" y2="631.57" stroke="#000" stroke-width="0.6"/>
<circle cx="179.19" cy="630.50" r="1.85" fill="#000"/>
<line x1="176.60" y1="629.43" x2="181.77" y2="631.57" stroke="#000" stroke-width="0.6"/>
<line x1="178.11" y1="627.91" x2="180.26" y2="633.09" stroke="#000" stroke-width="0.6"/>
<line x1="180.26" y1="627.91" x2="178.11" y2="633.09" stroke="#000" stroke-width="0.6"/>
<line x1="181.77" y1="629.43" x2="176.60" y2="631.57" stroke="#000" stroke-width="0.6"/>
<circle cx="217.72" cy="630.50" r="1.85" fill="#000"/>
<line x1="215.13" y1="629.43" x2="220.30" y2="631.57" stroke="#000" stroke-width="0.6"/>
<line x1="216.64" y1="627.91" x2="218.79" y2="633.09" stroke="#000" stroke-width="0.6"/>
<line x1="218.79" y1="627.91" x2="216.64" y2="633.09" stroke="#000" stroke-width="0.6"/>
<line x1="220.30" y1="629.43" x2="215.13" y2="631.57" stroke="#000" stroke-width="0.6"/>
<circle cx="227.15" cy="630.50" r="1.85" fill="#000"/>
<line x1="224.56" y1="629.43" x2="229.73" y2="631.57" stroke="#000" stroke-width="0.6"/>
<line x1="226.07" y1="627.91" x2="228.22" y2="633.09" stroke="#000" stroke-width="0.6"/>
<line x1="228.22" y1="627.91" x2="226.07" y2="633.09" stroke="#000" stroke-width="0.6"/>
<line x1="229.73" y1="629.43" x2="224.56" y2="631.57" stroke="#000" stroke-width="0.6"/>
<circle cx="236.58" cy="630.50" r="1.85" fill="#000"/>
<line x1="233.99" y1="629.43" x2="239.16" y2="631.57" stroke="#000" stroke-width="0.6"/>
<line x1="235.50" y1="627.91" x2="237.65" y2="633.09" stroke="#000" stroke-width="0.6"/>
<line x1="237.65" y1="627.91" x2="235.50" y2="633.09" stroke="#000" stroke-width="0.6"/>
<line x1="239.16" y1="629.43" x2="233.99" y2="631.57" stroke="#000" stroke-width="0.6"/>
<circle cx="246.00" cy="630.50" r="1.85" fill="#000"/>
<line x1="243.42" y1="629.43" x2="248.59" y2="631.57" stroke="#000" stroke-width="0.6"/>
<line x1="244.93" y1="627.91" x2="247.08" y2="633.09" stroke="#000" stroke-width="0.6"/>
<line x1="247.08" y1="627.91" x2="244.93" y2="633.09" stroke="#000" stroke-width="0.6"/>
<line x1="248.59" y1="629.43" x2="243.42" y2="631.57" stroke="#000" stroke-width="0.6"/>
<circle cx="264.86" cy="630.50" r="1.85" fill="#000"/>
<line x1="262.28" y1="629.43" x2="267.45" y2="631.57" stroke="#000" stroke-width="0.6"/>
<line x1="263.79" y1="627.91" x2="265.94" y2="633.09" stroke="#000" stroke-width="0.6"/>
<line x1="265.94" y1="627.91" x2="263.79" y2="633.09" stroke="#000" stroke-width="0.6"/>
<line x1="267.45" y1="629.43" x2="262.28" y2="631.57" stroke="#000" stroke-width="0.6"/>
<circle cx="283.72" cy="630.50" r="1.85" fill="#000"/>
<line x1="281.14" y1="629.43" x2="286.31" y2="631.57" stroke="#000" stroke-width="0.6"/>
<line x1="282.65" y1="627.91" x2="284.80" y2="633.09" stroke="#000" stroke-width="0.6"/>
<line x1="284.80" y1="627.91" x2="282.65" y2="633.09" stroke="#000" stroke-width="0.6"/>
<line x1="286.31" y1="629.43" x2="281.14" y2="631.57" stroke="#000" stroke-width="0.6"/>
<circle cx="293.15" cy="630.50" r="1.85" fill="#000"/>
<line x1="290.57" y1="629.43" x2="295.74" y2="631.57" stroke="#000" stroke-width="0.6"/>
<line x1="292.08" y1="627.91" x2="294.23" y2="633.09" stroke="#000" stroke-width="0.6"/>
<line x1="294.23" y1="627.91" x2="292.08" y2="633.09" stroke="#000" stroke-width="0.6"/>
<line x1="295.74" y1="629.43" x2="290.57" y2="631.57" stroke="#000" stroke-width="0.6"/>
<circle cx="312.01" cy="630.50" r="1.85" fill="#000"/>
<line x1="309.43" y1="629.43" x2="314.60" y2="631.57" stroke="#000" stroke-width="0.6"/>
<line x1="310.94" y1="627.91" x2="313.09" y2="633.09" stroke="#000" stroke-width="0.6"/>
<line x1="313.09" y1="627.91" x2="310.94" y2="633.09" stroke="#000" stroke-width="0.6"/>
<line x1="314.60" y1="629.43" x2="309.43" y2="631.57" stroke="#000" stroke-width="0.6"/>
<circle cx="321.44" cy="630.50" r="1.85" fill="#000"/>
<line x1="318.86" y1="629.43" x2="324.03" y2="631.57" stroke="#000" stroke-width="0.6"/>
<line x1="320.37" y1="627.91" x2="322.52" y2="633.09" stroke="#000" stroke-width="0.6"/>
<line x1="322.52" y1="627.91" x2="320.37" y2="633.09" stroke="#000" stroke-width="0.6"/>
<line x1="324.03" y1="629.43" x2="318.86" y2="631.57" stroke="#000" stroke-width="0.6"/>
<circle cx="340.31" cy="630.50" r="1.85" fill="#000"/>
<line x1="337.72" y1="629.43" x2="342.89" y2="631.57" stroke="#000" stroke-width="0.6"/>
<line x1="339.23" y1="627.91" x2="341.38" y2="633.09" stroke="#000" stroke-width="0.6"/>
<line x1="341.38" y1="627.91" x2="339.23" y2="633.09" stroke="#000" stroke-width="0.6"/>
<line x1="342.89" y1="629.43" x2="337.72" y2="631.57" stroke="#000" stroke-width="0.6"/>
<circle cx="122.60" cy="640.10" r="1.85" fill="#000"/>
<line x1="120.02" y1="639.03" x2="125.19" y2="641.17" stroke="#000" stroke-width="0.6"/>
<line x1="121.53" y1="637.51" x2="123.68" y2="642.69" stroke="#000" stroke-width="0.6"/>
<line x1="123.68" y1="637.51" x2="121.53" y2="642.69" stroke="#000" stroke-width="0.6"/>
<line x1="125.19" y1="639.03" x2="120.02" y2="641.17" stroke="#000" stroke-width="0.6"/>
<circle cx="150.90" cy="640.10" r="1.85" fill="#000"/>
<line x1="148.31" y1="639.03" x2="153.48" y2="641.17" stroke="#000" stroke-width="0.6"/>
<line x1="149.82" y1="637.51" x2="151.97" y2="642.69" stroke="#000" stroke-width="0.6"/>
<line x1="151.97" y1="637.51" x2="149.82" y2="642.69" stroke="#000" stroke-width="0.6"/>
<line x1="153.48" y1="639.03" x2="148.31" y2="641.17" stroke="#000" stroke-width="0.6"/>
<circle cx="169.75" cy="640.10" r="1.85" fill="#000"/>
<line x1="167.17" y1="639.03" x2="172.34" y2="641.17" stroke="#000" stroke-width="0.6"/>
<line x1="168.68" y1="637.51" x2="170.83" y2="642.69" stroke="#000" stroke-width="0.6"/>
<line x1="170.83" y1="637.51" x2="168.68" y2="642.69" stroke="#000" stroke-width="0.6"/>
<line x1="172.34" y1="639.03" x2="167.17" y2="641.17" stroke="#000" stroke-width="0.6"/>
<circle cx="179.19" cy="640.10" r="1.85" fill="#000"/>
<line x1="176.60" y1="639.03" x2="181.77" y2="641.17" stroke="#000" stroke-width="0.6"/>
<line x1="178.11" y1="637.51" x2="180.26" y2="642.69" stroke="#000" stroke-width="0.6"/>
<line x1="180.26" y1="637.51" x2="178.11" y2="642.69" stroke="#000" stroke-width="0.6"/>
<line x1="181.77" y1="639.03" x2="176.60" y2="641.17" stroke="#000" stroke-width="0.6"/>
<circle cx="207.47" cy="640.10" r="1.85" fill="#000"/>
<line x1="204.89" y1="639.03" x2="210.06" y2="641.17" stroke="#000" stroke-width="0.6"/>
<line x1="206.40" y1="637.51" x2="208.55" y2="642.69" stroke="#000" stroke-width="0.6"/>
<line x1="208.55" y1="637.51" x2="206.40" y2="642.69" stroke="#000" stroke-width="0.6"/>
<line x1="210.06" y1="639.03" x2="204.89" y2="641.17" stroke="#000" stroke-width="0.6"/>
<circle cx="169.75" cy="649.70" r="1.85" fill="#000"/>
<line x1="167.17" y1="648.63" x2="172.34" y2="650.77" stroke="#000" stroke-width="0.6"/>
<line x1="168.68" y1="647.11" x2="170.83" y2="652.29" stroke="#000" stroke-width="0.6"/>
<line x1="170.83" y1="647.11" x2="168.68" y2="652.29" stroke="#000" stroke-width="0.6"/>
<line x1="172.34" y1="648.63" x2="167.17" y2="650.77" stroke="#000" stroke-width="0.6"/>
<circle cx="207.47" cy="649.70" r="1.85" fill="#000"/>
<line x1="204.89" y1="648.63" x2="210.06" y2="650.77" stroke="#000" stroke-width="0.6"/>
<line x1="206.40" y1="647.11" x2="208.55" y2="652.29" stroke="#000" stroke-width="0.6"/>
<line x1="208.55" y1="647.11" x2="206.40" y2="652.29" stroke="#000" stroke-width="0.6"/>
<line x1="210.06" y1="648.63" x2="204.89" y2="650.77" stroke="#000" stroke-width="0.6"/>
<circle cx="169.75" cy="659.30" r="1.85" fill="#000"/>
<line x1="167.17" y1="658.23" x2="172.34" y2="660.37" stroke="#000" stroke-width="0.6"/>
<line x1="168.68" y1="656.71" x2="170.83" y2="661.89" stroke="#000" stroke-width="0.6"/>
<line x1="170.83" y1="656.71" x2="168.68" y2="661.89" stroke="#000" stroke-width="0.6"/>
<line x1="172.34" y1="658.23" x2="167.17" y2="660.37" stroke="#000" stroke-width="0.6"/>
<circle cx="207.47" cy="668.90" r="1.85" fill="#000"/>
<line x1="204.89" y1="667.83" x2="210.06" y2="669.97" stroke="#000" stroke-width="0.6"/>
<line x1="206.40" y1="666.31" x2="208.55" y2="671.49" stroke="#000" stroke-width="0.6"/>
<line x1="208.55" y1="666.31" x2="206.40" y2="671.49" stroke="#000" stroke-width="0.6"/>
<line x1="210.06" y1="667.83" x2="204.89" y2="669.97" stroke="#000" stroke-width="0.6"/>
<path d="M198.04,703.80 L201.24,707.00 L198.04,710.20 L194.84,707.00 Z" fill="#000"/>
<path d="M179.19,713.40 L182.38,716.60 L179.19,719.80 L175.99,716.60 Z" fill="#000"/>
<path d="M227.15,703.80 L230.34,707.00 L227.15,710.20 L223.95,707.00 Z" fill="#000"/>
<path d="M264.86,713.40 L268.06,716.60 L264.86,719.80 L261.66,716.60 Z" fill="#000"/>
<line x1="89.50" y1="540.00" x2="89.50" y2="578.40" stroke="#151515" stroke-width="1.0"/>
<line x1="89.50" y1="587.00" x2="89.50" y2="721.00" stroke="#151515" stroke-width="1.0"/>
<line x1="99.50" y1="540.00" x2="99.50" y2="578.40" stroke="#151515" stroke-width="1.0"/>
<line x1="99.50" y1="587.00" x2="99.50" y2="721.00" stroke="#151515" stroke-width="1.0"/>
<line x1="108.50" y1="540.00" x2="108.50" y2="578.40" stroke="#151515" stroke-width="1.0"/>
<line x1="108.50" y1="587.00" x2="108.50" y2="721.00" stroke="#151515" stroke-width="1.0"/>
<line x1="117.50" y1="540.00" x2="117.50" y2="578.40" stroke="#151515" stroke-width="1.0"/>
<line x1="117.50" y1="587.00" x2="117.50" y2="721.00" stroke="#151515" stroke-width="1.0"/>
<line x1="127.50" y1="540.00" x2="127.50" y2="578.40" stroke="#151515" stroke-width="1.0"/>
<line x1="127.50" y1="587.00" x2="127.50" y2="721.00" stroke="#151515" stroke-width="1.0"/>
<line x1="136.50" y1="540.00" x2="136.50" y2="578.40" stroke="#151515" stroke-width="1.0"/>
<line x1="136.50" y1="587.00" x2="136.50" y2="721.00" stroke="#151515" stroke-width="1.0"/>
<line x1="146.50" y1="540.00" x2="146.50" y2="578.40" stroke="#151515" stroke-width="1.0"/>
<line x1="146.50" y1="587.00" x2="146.50" y2="721.00" stroke="#151515" stroke-width="1.0"/>
<line x1="155.50" y1="540.00" x2="155.50" y2="578.40" stroke="#151515" stroke-width="1.0"/>
<line x1="155.50" y1="587.00" x2="155.50" y2="721.00" stroke="#151515" stroke-width="1.0"/>
<line x1="165.50" y1="540.00" x2="165.50" y2="578.40" stroke="#151515" stroke-width="1.0"/>
<line x1="165.50" y1="587.00" x2="165.50" y2="721.00" stroke="#151515" stroke-width="1.0"/>
<line x1="174.50" y1="540.00" x2="174.50" y2="578.40" stroke="#151515" stroke-width="1.0"/>
<line x1="174.50" y1="587.00" x2="174.50" y2="721.00" stroke="#151515" stroke-width="1.0"/>
<line x1="183.50" y1="540.00" x2="183.50" y2="578.40" stroke="#151515" stroke-width="1.0"/>
<line x1="183.50" y1="587.00" x2="183.50" y2="721.00" stroke="#151515" stroke-width="1.0"/>
<line x1="193.50" y1="540.00" x2="193.50" y2="578.40" stroke="#151515" stroke-width="1.0"/>
<line x1="193.50" y1="587.00" x2="193.50" y2="721.00" stroke="#151515" stroke-width="1.0"/>
<line x1="202.50" y1="540.00" x2="202.50" y2="578.40" stroke="#151515" stroke-width="1.0"/>
<line x1="202.50" y1="587.00" x2="202.50" y2="721.00" stroke="#151515" stroke-width="1.0"/>
<line x1="222.50" y1="540.00" x2="222.50" y2="578.40" stroke="#151515" stroke-width="1.0"/>
<line x1="222.50" y1="587.00" x2="222.50" y2="721.00" stroke="#151515" stroke-width="1.0"/>
<line x1="231.50" y1="540.00" x2="231.50" y2="578.40" stroke="#151515" stroke-width="1.0"/>
<line x1="231.50" y1="587.00" x2="231.50" y2="721.00" stroke="#151515" stroke-width="1.0"/>
<line x1="241.50" y1="540.00" x2="241.50" y2="578.40" stroke="#151515" stroke-width="1.0"/>
<line x1="241.50" y1="587.00" x2="241.50" y2="721.00" stroke="#151515" stroke-width="1.0"/>
<line x1="250.50" y1="540.00" x2="250.50" y2="578.40" stroke="#151515" stroke-width="1.0"/>
<line x1="250.50" y1="587.00" x2="250.50" y2="721.00" stroke="#151515" stroke-width="1.0"/>
<line x1="260.50" y1="540.00" x2="260.50" y2="578.40" stroke="#151515" stroke-width="1.0"/>
<line x1="260.50" y1="587.00" x2="260.50" y2="721.00" stroke="#151515" stroke-width="1.0"/>
<line x1="269.50" y1="540.00" x2="269.50" y2="578.40" stroke="#151515" stroke-width="1.0"/>
<line x1="269.50" y1="587.00" x2="269.50" y2="721.00" stroke="#151515" stroke-width="1.0"/>
<line x1="279.50" y1="540.00" x2="279.50" y2="578.40" stroke="#151515" stroke-width="1.0"/>
<line x1="279.50" y1="587.00" x2="279.50" y2="721.00" stroke="#151515" stroke-width="1.0"/>
<line x1="288.50" y1="540.00" x2="288.50" y2="578.40" stroke="#151515" stroke-width="1.0"/>
<line x1="288.50" y1="587.00" x2="288.50" y2="721.00" stroke="#151515" stroke-width="1.0"/>
<line x1="297.50" y1="540.00" x2="297.50" y2="578.40" stroke="#151515" stroke-width="1.0"/>
<line x1="297.50" y1="587.00" x2="297.50" y2="721.00" stroke="#151515" stroke-width="1.0"/>
<line x1="307.50" y1="540.00" x2="307.50" y2="578.40" stroke="#151515" stroke-width="1.0"/>
<line x1="307.50" y1="587.00" x2="307.50" y2="721.00" stroke="#151515" stroke-width="1.0"/>
<line x1="316.50" y1="540.00" x2="316.50" y2="578.40" stroke="#151515" stroke-width="1.0"/>
<line x1="316.50" y1="587.00" x2="316.50" y2="721.00" stroke="#151515" stroke-width="1.0"/>
<line x1="326.50" y1="540.00" x2="326.50" y2="578.40" stroke="#151515" stroke-width="1.0"/>
<line x1="326.50" y1="587.00" x2="326.50" y2="721.00" stroke="#151515" stroke-width="1.0"/>
<line x1="335.50" y1="540.00" x2="335.50" y2="578.40" stroke="#151515" stroke-width="1.0"/>
<line x1="335.50" y1="587.00" x2="335.50" y2="721.00" stroke="#151515" stroke-width="1.0"/>
<line x1="345.50" y1="540.00" x2="345.50" y2="578.40" stroke="#151515" stroke-width="1.0"/>
<line x1="345.50" y1="587.00" x2="345.50" y2="721.00" stroke="#151515" stroke-width="1.0"/>
<line x1="89.60" y1="540.50" x2="345.30" y2="540.50" stroke="#151515" stroke-width="1.0"/>
<line x1="89.60" y1="549.50" x2="345.30" y2="549.50" stroke="#151515" stroke-width="1.0"/>
<line x1="89.60" y1="559.50" x2="345.30" y2="559.50" stroke="#151515" stroke-width="1.0"/>
<line x1="89.60" y1="568.50" x2="345.30" y2="568.50" stroke="#151515" stroke-width="1.0"/>
<line x1="89.60" y1="578.50" x2="345.30" y2="578.50" stroke="#151515" stroke-width="1.0"/>
<line x1="89.60" y1="587.50" x2="345.30" y2="587.50" stroke="#151515" stroke-width="1.0"/>
<line x1="89.60" y1="596.50" x2="345.30" y2="596.50" stroke="#151515" stroke-width="1.0"/>
<line x1="89.60" y1="606.50" x2="345.30" y2="606.50" stroke="#151515" stroke-width="1.0"/>
<line x1="89.60" y1="615.50" x2="345.30" y2="615.50" stroke="#151515" stroke-width="1.0"/>
<line x1="89.60" y1="625.50" x2="345.30" y2="625.50" stroke="#151515" stroke-width="1.0"/>
<line x1="89.60" y1="635.50" x2="345.30" y2="635.50" stroke="#151515" stroke-width="1.0"/>
<line x1="89.60" y1="644.50" x2="345.30" y2="644.50" stroke="#151515" stroke-width="1.0"/>
<line x1="89.60" y1="654.50" x2="345.30" y2="654.50" stroke="#151515" stroke-width="1.0"/>
<line x1="89.60" y1="663.50" x2="345.30" y2="663.50" stroke="#151515" stroke-width="1.0"/>
<line x1="89.60" y1="673.50" x2="345.30" y2="673.50" stroke="#151515" stroke-width="1.0"/>
<line x1="89.60" y1="683.50" x2="345.30" y2="683.50" stroke="#151515" stroke-width="1.0"/>
<line x1="89.60" y1="692.50" x2="345.30" y2="692.50" stroke="#151515" stroke-width="1.0"/>
<line x1="89.60" y1="702.50" x2="345.30" y2="702.50" stroke="#151515" stroke-width="1.0"/>
<line x1="89.60" y1="711.50" x2="345.30" y2="711.50" stroke="#151515" stroke-width="1.0"/>
<line x1="89.60" y1="721.50" x2="345.30" y2="721.50" stroke="#151515" stroke-width="1.0"/>
<line x1="89.60" y1="625.40" x2="345.30" y2="625.40" stroke="#000" stroke-width="1.4"/>
<line x1="89.60" y1="673.40" x2="345.30" y2="673.40" stroke="#000" stroke-width="1.4"/>
<rect x="89.6" y="480.3" width="255.70" height="98.10" fill="none" stroke="#000" stroke-width="1.3"/>
<rect x="89.6" y="587" width="255.70" height="134.00" fill="none" stroke="#000" stroke-width="1.3"/>
<line x1="89.60" y1="491.40" x2="345.30" y2="491.40" stroke="#000" stroke-width="1.1"/>
<line x1="212.60" y1="480.30" x2="212.60" y2="578.40" stroke="#000" stroke-width="1.4"/>
<line x1="212.60" y1="587.00" x2="212.60" y2="721.00" stroke="#000" stroke-width="1.4"/>
<line x1="127.30" y1="540.50" x2="127.30" y2="578.40" stroke="#e8322a" stroke-width="1.2" stroke-dasharray="5 1.3"/>
<line x1="127.30" y1="587.50" x2="127.30" y2="721.00" stroke="#e8322a" stroke-width="1.2" stroke-dasharray="5 1.3"/>
<line x1="279.10" y1="540.50" x2="279.10" y2="578.40" stroke="#e8322a" stroke-width="1.2" stroke-dasharray="5 1.3"/>
<line x1="279.10" y1="587.50" x2="279.10" y2="721.00" stroke="#e8322a" stroke-width="1.2" stroke-dasharray="5 1.3"/>
<text x="85.50" y="547.60" font-size="6.9" text-anchor="end" font-weight="bold" fill="#111" stroke="#111" stroke-width="0.1">BLU-222 + CDK4/6i TGI%</text>
<text x="85.50" y="557.10" font-size="6.9" text-anchor="end" font-weight="bold" fill="#111" stroke="#111" stroke-width="0.1">BLU-222 TGI%</text>
<text x="85.50" y="566.60" font-size="6.9" text-anchor="end" font-weight="bold" fill="#111" stroke="#111" stroke-width="0.1">CDK4/6i TGI%</text>
<text x="85.50" y="576.10" font-size="6.9" text-anchor="end" font-weight="bold" fill="#111" stroke="#111" stroke-width="0.1">CDK4/6 Status</text>
<text x="85.50" y="594.70" font-size="6.9" text-anchor="end" fill="#222" stroke="#222" stroke-width="0.2"><tspan font-style="italic">RB1</tspan></text>
<text x="85.50" y="604.30" font-size="6.9" text-anchor="end" fill="#222" stroke="#222" stroke-width="0.2"><tspan font-style="italic">CCND1</tspan></text>
<text x="85.50" y="613.90" font-size="6.9" text-anchor="end" fill="#222" stroke="#222" stroke-width="0.2"><tspan font-style="italic">CDKN2A</tspan></text>
<text x="85.50" y="623.50" font-size="6.9" text-anchor="end" fill="#222" stroke="#222" stroke-width="0.2"><tspan font-style="italic">CCNE1</tspan></text>
<text x="85.50" y="633.10" font-size="6.9" text-anchor="end" fill="#222" stroke="#222" stroke-width="0.2"><tspan font-style="italic">TP53</tspan> mutation</text>
<text x="85.50" y="642.70" font-size="6.9" text-anchor="end" fill="#222" stroke="#222" stroke-width="0.2"><tspan font-style="italic">PIK3CA</tspan> mutation</text>
<text x="85.50" y="652.30" font-size="6.9" text-anchor="end" fill="#222" stroke="#222" stroke-width="0.2"><tspan font-style="italic">ESR1</tspan> mutation</text>
<text x="85.50" y="661.90" font-size="6.9" text-anchor="end" fill="#222" stroke="#222" stroke-width="0.2"><tspan font-style="italic">PTEN</tspan> mutation</text>
<text x="85.50" y="671.50" font-size="6.9" text-anchor="end" fill="#222" stroke="#222" stroke-width="0.2"><tspan font-style="italic">FAT1</tspan> LoF</text>
<text x="85.50" y="681.10" font-size="6.9" text-anchor="end" fill="#222" stroke="#222" stroke-width="0.2"><tspan font-style="italic">RAS</tspan> mRNA high</text>
<text x="85.50" y="690.70" font-size="6.9" text-anchor="end" fill="#222" stroke="#222" stroke-width="0.2"><tspan font-style="italic">FGFR2</tspan> mRNA high</text>
<text x="85.50" y="700.30" font-size="6.9" text-anchor="end" fill="#222" stroke="#222" stroke-width="0.2"><tspan font-style="italic">ERBB2</tspan> mRNA high</text>
<text x="85.50" y="709.90" font-size="6.9" text-anchor="end" fill="#222" stroke="#222" stroke-width="0.2"><tspan font-style="italic">AURKA</tspan> amp</text>
<text x="85.50" y="719.50" font-size="6.9" text-anchor="end" fill="#222" stroke="#222" stroke-width="0.2"><tspan font-style="italic">CDK4</tspan> amp</text>
<rect x="355.80" y="540.40" width="9.30" height="9.40" fill="#eaa784" stroke="#222" stroke-width="0.8"/>
<text x="371.00" y="548.00" font-size="6.9" text-anchor="start" fill="#222" stroke="#222" stroke-width="0.2">Nonresponder</text>
<rect x="355.80" y="549.80" width="9.30" height="9.40" fill="#f1d57c" stroke="#222" stroke-width="0.8"/>
<text x="371.00" y="557.40" font-size="6.9" text-anchor="start" fill="#222" stroke="#222" stroke-width="0.2">Partial responder</text>
<rect x="355.80" y="559.20" width="9.30" height="9.40" fill="#8ce071" stroke="#222" stroke-width="0.8"/>
<text x="371.00" y="566.80" font-size="6.9" text-anchor="start" fill="#222" stroke="#222" stroke-width="0.2">Responder</text>
<rect x="355.80" y="568.60" width="9.30" height="9.40" fill="#2c5d88" stroke="#222" stroke-width="0.8"/>
<text x="371.00" y="576.20" font-size="6.9" text-anchor="start" fill="#222" stroke="#222" stroke-width="0.2">Naive</text>
<rect x="355.80" y="578.00" width="9.30" height="9.40" fill="#dde78b" stroke="#222" stroke-width="0.8"/>
<text x="371.00" y="585.60" font-size="6.9" text-anchor="start" fill="#222" stroke="#222" stroke-width="0.2">Experienced</text>
<rect x="355.80" y="597.00" width="9.30" height="9.40" fill="#fff" stroke="#222" stroke-width="0.8"/>
<path d="M360.45,598.50 L363.65,601.70 L360.45,604.90 L357.25,601.70 Z" fill="#000"/>
<text x="371.00" y="604.60" font-size="6.9" text-anchor="start" fill="#222" stroke="#222" stroke-width="0.2">CN ≥ 4</text>
<rect x="355.80" y="606.40" width="9.30" height="9.40" fill="#fff" stroke="#222" stroke-width="0.8"/>
<circle cx="360.45" cy="611.10" r="2.95" fill="none" stroke="#000" stroke-width="1.0"/>
<line x1="358.35" y1="609.00" x2="362.55" y2="613.20" stroke="#000" stroke-width="1.0"/>
<text x="371.00" y="614.00" font-size="6.9" text-anchor="start" fill="#222" stroke="#222" stroke-width="0.2">CN = 0</text>
<rect x="355.80" y="615.80" width="9.30" height="9.40" fill="#fff" stroke="#222" stroke-width="0.8"/>
<circle cx="360.45" cy="620.80" r="1.85" fill="#000"/>
<line x1="357.86" y1="619.73" x2="363.04" y2="621.87" stroke="#000" stroke-width="0.6"/>
<line x1="359.38" y1="618.21" x2="361.52" y2="623.39" stroke="#000" stroke-width="0.6"/>
<line x1="361.52" y1="618.21" x2="359.38" y2="623.39" stroke="#000" stroke-width="0.6"/>
<line x1="363.04" y1="619.73" x2="357.86" y2="621.87" stroke="#000" stroke-width="0.6"/>
<text x="371.00" y="623.40" font-size="6.9" text-anchor="start" fill="#222" stroke="#222" stroke-width="0.2">Mutation</text>
<text x="356.00" y="642.60" font-size="6.9" text-anchor="start" fill="#222" stroke="#222" stroke-width="0.2">mRNA expression</text>
<rect x="355.80" y="645.00" width="9.30" height="9.40" fill="#f2a3a7" stroke="#222" stroke-width="0.8"/>
<text x="371.00" y="652.60" font-size="6.9" text-anchor="start" fill="#222" stroke="#222" stroke-width="0.2">>75th percentile</text>
<rect x="355.80" y="654.40" width="9.30" height="9.40" fill="#73d3ef" stroke="#222" stroke-width="0.8"/>
<text x="371.00" y="662.00" font-size="6.9" text-anchor="start" fill="#222" stroke="#222" stroke-width="0.2">10th-25th percentile</text>
<rect x="355.80" y="663.80" width="9.30" height="9.40" fill="#3b82a4" stroke="#222" stroke-width="0.8"/>
<text x="371.00" y="671.40" font-size="6.9" text-anchor="start" fill="#222" stroke="#222" stroke-width="0.2"><10th percentile</text>
<rect x="355.80" y="673.20" width="9.30" height="9.40" fill="#e8e8e8" stroke="#222" stroke-width="0.8"/>
<text x="371.00" y="680.80" font-size="6.9" text-anchor="start" fill="#222" stroke="#222" stroke-width="0.2">No data available</text>
<text x="445.40" y="486.40" font-size="13.5" text-anchor="start" font-weight="bold" fill="#111" stroke="#111" stroke-width="0.1">e.</text>
<line x1="468.40" y1="500.40" x2="468.40" y2="664.00" stroke="#3a3a3a" stroke-width="1"/>
<line x1="468.40" y1="664.00" x2="681.40" y2="664.00" stroke="#3a3a3a" stroke-width="1"/>
<line x1="464.90" y1="664.00" x2="468.40" y2="664.00" stroke="#3a3a3a" stroke-width="1"/>
<text x="463.10" y="666.80" font-size="7.4" text-anchor="end" fill="#222" stroke="#222" stroke-width="0.2">0</text>
<line x1="464.90" y1="617.14" x2="468.40" y2="617.14" stroke="#3a3a3a" stroke-width="1"/>
<text x="463.10" y="619.94" font-size="7.4" text-anchor="end" fill="#222" stroke="#222" stroke-width="0.2">20</text>
<line x1="464.90" y1="570.28" x2="468.40" y2="570.28" stroke="#3a3a3a" stroke-width="1"/>
<text x="463.10" y="573.08" font-size="7.4" text-anchor="end" fill="#222" stroke="#222" stroke-width="0.2">40</text>
<line x1="464.90" y1="523.42" x2="468.40" y2="523.42" stroke="#3a3a3a" stroke-width="1"/>
<text x="463.10" y="526.22" font-size="7.4" text-anchor="end" fill="#222" stroke="#222" stroke-width="0.2">60</text>
<text x="450.30" y="588.00" font-size="8.3" text-anchor="middle" font-weight="bold" fill="#111" stroke="#111" stroke-width="0.1" transform="rotate(-90 450.3 588)">Percent of models</text>
<rect x="472.90" y="557.39" width="13.40" height="106.61" fill="#c4b4b5"/>
<rect x="486.30" y="517.56" width="13.40" height="146.44" fill="#6fa7ba"/>
<text x="479.60" y="554.89" font-size="7" text-anchor="middle" fill="#222" stroke="#222" stroke-width="0.2">5</text>
<text x="493.00" y="515.06" font-size="7" text-anchor="middle" fill="#222" stroke="#222" stroke-width="0.2">10</text>
<text x="486.30" y="674.20" font-size="7.4" text-anchor="middle" font-style="italic" fill="#222" stroke="#222" stroke-width="0.2">RAS</text>
<text x="486.30" y="682.30" font-size="7.4" text-anchor="middle" fill="#222" stroke="#222" stroke-width="0.2">high</text>
<rect x="502.75" y="642.68" width="13.40" height="21.32" fill="#c4b4b5"/>
<rect x="516.15" y="605.42" width="13.40" height="58.58" fill="#6fa7ba"/>
<text x="509.45" y="640.18" font-size="7" text-anchor="middle" fill="#222" stroke="#222" stroke-width="0.2">1</text>
<text x="522.85" y="602.92" font-size="7" text-anchor="middle" fill="#222" stroke="#222" stroke-width="0.2">4</text>
<text x="516.15" y="674.20" font-size="7.4" text-anchor="middle" font-style="italic" fill="#222" stroke="#222" stroke-width="0.2">CCNE1</text>
<text x="516.15" y="682.30" font-size="7.4" text-anchor="middle" fill="#222" stroke="#222" stroke-width="0.2">high</text>
<rect x="532.60" y="600.04" width="13.40" height="63.96" fill="#c4b4b5"/>
<rect x="546.00" y="605.42" width="13.40" height="58.58" fill="#6fa7ba"/>
<text x="539.30" y="597.54" font-size="7" text-anchor="middle" fill="#222" stroke="#222" stroke-width="0.2">3</text>
<text x="552.70" y="602.92" font-size="7" text-anchor="middle" fill="#222" stroke="#222" stroke-width="0.2">4</text>
<text x="546.00" y="674.20" font-size="7.4" text-anchor="middle" font-style="italic" fill="#222" stroke="#222" stroke-width="0.2">FGFR2</text>
<text x="546.00" y="682.30" font-size="7.4" text-anchor="middle" fill="#222" stroke="#222" stroke-width="0.2">high</text>
<rect x="562.45" y="642.68" width="13.40" height="21.32" fill="#c4b4b5"/>
<rect x="575.85" y="649.36" width="13.40" height="14.64" fill="#6fa7ba"/>
<text x="569.15" y="640.18" font-size="7" text-anchor="middle" fill="#222" stroke="#222" stroke-width="0.2">1</text>
<text x="582.55" y="646.86" font-size="7" text-anchor="middle" fill="#222" stroke="#222" stroke-width="0.2">1</text>
<text x="575.85" y="674.20" font-size="7.4" text-anchor="middle" font-style="italic" fill="#222" stroke="#222" stroke-width="0.2">AURKA</text>
<text x="575.85" y="682.30" font-size="7.4" text-anchor="middle" fill="#222" stroke="#222" stroke-width="0.2">amp</text>
<rect x="605.70" y="649.36" width="13.40" height="14.64" fill="#6fa7ba"/>
<text x="599.00" y="661.50" font-size="7" text-anchor="middle" fill="#222" stroke="#222" stroke-width="0.2">0</text>
<text x="612.40" y="646.86" font-size="7" text-anchor="middle" fill="#222" stroke="#222" stroke-width="0.2">1</text>
<text x="605.70" y="674.20" font-size="7.4" text-anchor="middle" font-style="italic" fill="#222" stroke="#222" stroke-width="0.2">ERBB2</text>
<text x="605.70" y="682.30" font-size="7.4" text-anchor="middle" fill="#222" stroke="#222" stroke-width="0.2">high</text>
<rect x="635.55" y="649.36" width="13.40" height="14.64" fill="#6fa7ba"/>
<text x="628.85" y="661.50" font-size="7" text-anchor="middle" fill="#222" stroke="#222" stroke-width="0.2">0</text>
<text x="642.25" y="646.86" font-size="7" text-anchor="middle" fill="#222" stroke="#222" stroke-width="0.2">1</text>
<text x="635.55" y="674.20" font-size="7.4" text-anchor="middle" font-style="italic" fill="#222" stroke="#222" stroke-width="0.2">FAT1</text>
<text x="635.55" y="682.30" font-size="7.4" text-anchor="middle" fill="#222" stroke="#222" stroke-width="0.2">loss</text>
<rect x="652.00" y="557.39" width="13.40" height="106.61" fill="#c4b4b5"/>
<rect x="665.40" y="649.36" width="13.40" height="14.64" fill="#6fa7ba"/>
<text x="658.70" y="554.89" font-size="7" text-anchor="middle" fill="#222" stroke="#222" stroke-width="0.2">5</text>
<text x="672.10" y="646.86" font-size="7" text-anchor="middle" fill="#222" stroke="#222" stroke-width="0.2">1</text>
<text x="665.40" y="674.20" font-size="7.4" text-anchor="middle" font-style="italic" fill="#222" stroke="#222" stroke-width="0.2">RB1</text>
<text x="665.40" y="682.30" font-size="7.4" text-anchor="middle" fill="#222" stroke="#222" stroke-width="0.2">loss</text>
<text x="601.00" y="514.30" font-size="7" text-anchor="start" fill="#222" stroke="#222" stroke-width="0.2">BLU-222 + CDK4/6i</text>
<rect x="601.00" y="518.10" width="10.30" height="9.50" fill="#c4b4b5"/>
<rect x="601.00" y="530.00" width="10.30" height="9.40" fill="#6fa7ba"/>
<text x="614.40" y="525.40" font-size="6.85" text-anchor="start" fill="#222" stroke="#222" stroke-width="0.2">Nonresponder</text>
<text x="614.40" y="537.30" font-size="6.85" text-anchor="start" fill="#222" stroke="#222" stroke-width="0.2">Responder</text>
<text x="6.70" y="748.60" font-size="13.5" text-anchor="start" font-weight="bold" fill="#111" stroke="#111" stroke-width="0.1">f.</text>
<text x="118.00" y="748.60" font-size="11" text-anchor="middle" font-weight="bold" fill="#111" stroke="#111" stroke-width="0.1">All models</text>
<path d="M119.90,868.30 L119.90,801.30 A67,67 0 0 1 135.35,803.11 Z" fill="#dfe78b" stroke="#fff" stroke-width="0.9" stroke-linejoin="round"/>
<path d="M119.90,868.30 L135.35,803.11 A67,67 0 0 1 149.97,808.43 Z" fill="#e4a6a1" stroke="#fff" stroke-width="0.9" stroke-linejoin="round"/>
<path d="M119.90,868.30 L149.97,808.43 A67,67 0 0 1 173.64,828.29 Z" fill="#6faabf" stroke="#fff" stroke-width="0.9" stroke-linejoin="round"/>
<path d="M119.90,868.30 L173.64,828.29 A67,67 0 0 1 186.79,872.20 Z" fill="#a8b86a" stroke="#fff" stroke-width="0.9" stroke-linejoin="round"/>
<path d="M119.90,868.30 L186.79,872.20 A67,67 0 0 1 142.82,931.26 Z" fill="#b47f7a" stroke="#fff" stroke-width="0.9" stroke-linejoin="round"/>
<path d="M119.90,868.30 L142.82,931.26 A67,67 0 0 1 53.92,856.67 Z" fill="#3b80a1" stroke="#fff" stroke-width="0.9" stroke-linejoin="round"/>
<path d="M119.90,868.30 L53.92,856.67 A67,67 0 0 1 119.90,801.30 Z" fill="#b3b3b3" stroke="#fff" stroke-width="0.9" stroke-linejoin="round"/>
<text x="126.60" y="812.90" font-size="8.2" text-anchor="middle" fill="#222" stroke="#222" stroke-width="0.2">4%</text>
<text x="141.30" y="815.90" font-size="8.2" text-anchor="middle" fill="#222" stroke="#222" stroke-width="0.2">4%</text>
<text x="158.00" y="827.30" font-size="8.2" text-anchor="middle" fill="#222" stroke="#222" stroke-width="0.2">7%</text>
<text x="172.60" y="854.90" font-size="8.2" text-anchor="middle" fill="#222" stroke="#222" stroke-width="0.2">11%</text>
<text x="161.60" y="908.50" font-size="8.2" text-anchor="middle" fill="#222" stroke="#222" stroke-width="0.2">19%</text>
<text x="80.00" y="907.90" font-size="8.2" text-anchor="middle" fill="#222" stroke="#222" stroke-width="0.2">33%</text>
<text x="82.40" y="830.90" font-size="8.2" text-anchor="middle" fill="#222" stroke="#222" stroke-width="0.2">22%</text>
<line x1="122.00" y1="797.60" x2="127.50" y2="803.50" stroke="#333" stroke-width="0.8"/>
<rect x="74.50" y="776.30" width="54.10" height="21.30" fill="#fff" stroke="#333" stroke-width="0.9"/>
<text x="101.55" y="785.24" font-size="7.6" text-anchor="middle" fill="#222" stroke="#222" stroke-width="0.2"><tspan font-style="italic">FGFR2</tspan></text>
<text x="101.55" y="794.13" font-size="7.6" text-anchor="middle" fill="#222" stroke="#222" stroke-width="0.2">activation (1)</text>
<rect x="145.60" y="789.60" width="36.80" height="19.40" fill="#fff" stroke="#333" stroke-width="0.9"/>
<text x="164.00" y="797.59" font-size="7.6" text-anchor="middle" fill="#222" stroke="#222" stroke-width="0.2">Cyclin E1</text>
<text x="164.00" y="806.48" font-size="7.6" text-anchor="middle" fill="#222" stroke="#222" stroke-width="0.2">high (1)</text>
<rect x="1.00" y="799.00" width="81.40" height="22.40" fill="#fff" stroke="#333" stroke-width="0.9"/>
<text x="41.70" y="808.49" font-size="7.6" text-anchor="middle" fill="#222" stroke="#222" stroke-width="0.2">Unknown resistance</text>
<text x="41.70" y="817.38" font-size="7.6" text-anchor="middle" fill="#222" stroke="#222" stroke-width="0.2">mechanism (6)</text>
<rect x="184.00" y="845.40" width="61.60" height="22.00" fill="#fff" stroke="#333" stroke-width="0.9"/>
<text x="214.80" y="854.69" font-size="7.6" text-anchor="middle" fill="#222" stroke="#222" stroke-width="0.2">3+ Resistance</text>
<text x="214.80" y="863.58" font-size="7.6" text-anchor="middle" fill="#222" stroke="#222" stroke-width="0.2">mechanisms (3)</text>
<rect x="174.40" y="879.00" width="54.20" height="22.00" fill="#fff" stroke="#333" stroke-width="0.9"/>
<text x="201.50" y="888.29" font-size="7.6" text-anchor="middle" fill="#222" stroke="#222" stroke-width="0.2"><tspan font-style="italic">RAS</tspan></text>
<text x="201.50" y="897.18" font-size="7.6" text-anchor="middle" fill="#222" stroke="#222" stroke-width="0.2">activation (5)</text>
<rect x="2.40" y="875.40" width="61.20" height="21.60" fill="#fff" stroke="#333" stroke-width="0.9"/>
<text x="33.00" y="884.49" font-size="7.6" text-anchor="middle" fill="#222" stroke="#222" stroke-width="0.2">2 Resistance</text>
<text x="33.00" y="893.38" font-size="7.6" text-anchor="middle" fill="#222" stroke="#222" stroke-width="0.2">mechanisms (9)</text>
<text x="257.80" y="749.00" font-size="13.5" text-anchor="start" font-weight="bold" fill="#111" stroke="#111" stroke-width="0.1">g.</text>
<text x="362.30" y="748.30" font-size="11" text-anchor="middle" font-weight="bold" fill="#111" stroke="#111" stroke-width="0.1">BLU-222 + CDK4/6i</text>
<text x="362.30" y="759.90" font-size="11" text-anchor="middle" font-weight="bold" fill="#111" stroke="#111" stroke-width="0.1">responder (n = 16)</text>
<path d="M362.30,866.00 L362.30,799.00 A67,67 0 0 1 387.94,804.10 Z" fill="#e4a6a1" stroke="#fff" stroke-width="0.9" stroke-linejoin="round"/>
<path d="M362.30,866.00 L387.94,804.10 A67,67 0 1 1 314.92,913.38 Z" fill="#3b80a1" stroke="#fff" stroke-width="0.9" stroke-linejoin="round"/>
<path d="M362.30,866.00 L314.92,913.38 A67,67 0 0 1 300.40,840.36 Z" fill="#b47f7a" stroke="#fff" stroke-width="0.9" stroke-linejoin="round"/>
<path d="M362.30,866.00 L300.40,840.36 A67,67 0 0 1 362.30,799.00 Z" fill="#b3b3b3" stroke="#fff" stroke-width="0.9" stroke-linejoin="round"/>
<text x="373.00" y="812.00" font-size="8.2" text-anchor="middle" fill="#222" stroke="#222" stroke-width="0.2">6%</text>
<text x="404.00" y="905.00" font-size="8.2" text-anchor="middle" fill="#222" stroke="#222" stroke-width="0.2">56%</text>
<text x="308.30" y="878.00" font-size="8.2" text-anchor="middle" fill="#222" stroke="#222" stroke-width="0.2">19%</text>
<text x="331.40" y="822.50" font-size="8.2" text-anchor="middle" fill="#222" stroke="#222" stroke-width="0.2">19%</text>
<rect x="369.30" y="788.80" width="63.50" height="13.10" fill="#fff" stroke="#333" stroke-width="0.9"/>
<text x="401.05" y="798.09" font-size="7.6" text-anchor="middle" fill="#222" stroke="#222" stroke-width="0.2"><tspan font-style="italic">CCNE1</tspan> high (1)</text>
<rect x="269.00" y="787.80" width="81.30" height="22.10" fill="#fff" stroke="#333" stroke-width="0.9"/>
<text x="309.65" y="797.14" font-size="7.6" text-anchor="middle" fill="#222" stroke="#222" stroke-width="0.2">Unknown resistance</text>
<text x="309.65" y="806.03" font-size="7.6" text-anchor="middle" fill="#222" stroke="#222" stroke-width="0.2">mechanism (3)</text>
<rect x="257.80" y="893.60" width="54.00" height="22.10" fill="#fff" stroke="#333" stroke-width="0.9"/>
<text x="284.80" y="902.94" font-size="7.6" text-anchor="middle" fill="#222" stroke="#222" stroke-width="0.2"><tspan font-style="italic">RAS</tspan></text>
<text x="284.80" y="911.83" font-size="7.6" text-anchor="middle" fill="#222" stroke="#222" stroke-width="0.2">activation (3)</text>
<rect x="384.60" y="916.40" width="59.60" height="21.20" fill="#fff" stroke="#333" stroke-width="0.9"/>
<text x="414.40" y="925.29" font-size="7.6" text-anchor="middle" fill="#222" stroke="#222" stroke-width="0.2">2 Resistance</text>
<text x="414.40" y="934.18" font-size="7.6" text-anchor="middle" fill="#222" stroke="#222" stroke-width="0.2">mechanisms (9)</text>
<text x="458.30" y="749.00" font-size="13.5" text-anchor="start" font-weight="bold" fill="#111" stroke="#111" stroke-width="0.1">h.</text>
<text x="571.80" y="748.30" font-size="11" text-anchor="middle" font-weight="bold" fill="#111" stroke="#111" stroke-width="0.1">BLU-222 + CDK4/6i</text>
<text x="571.80" y="759.90" font-size="11" text-anchor="middle" font-weight="bold" fill="#111" stroke="#111" stroke-width="0.1">nonresponder (n = 11)</text>
<path d="M571.70,867.80 L571.70,800.80 A67,67 0 0 1 607.92,811.44 Z" fill="#dfe78b" stroke="#fff" stroke-width="0.9" stroke-linejoin="round"/>
<path d="M571.70,867.80 L607.92,811.44 A67,67 0 0 1 638.02,877.34 Z" fill="#6faabf" stroke="#fff" stroke-width="0.9" stroke-linejoin="round"/>
<path d="M571.70,867.80 L638.02,877.34 A67,67 0 0 1 590.58,932.09 Z" fill="#b47f7a" stroke="#fff" stroke-width="0.9" stroke-linejoin="round"/>
<path d="M571.70,867.80 L590.58,932.09 A67,67 0 0 1 505.38,877.34 Z" fill="#a8b86a" stroke="#fff" stroke-width="0.9" stroke-linejoin="round"/>
<path d="M571.70,867.80 L505.38,877.34 A67,67 0 0 1 571.70,800.80 Z" fill="#b3b3b3" stroke="#fff" stroke-width="0.9" stroke-linejoin="round"/>
<text x="586.90" y="815.00" font-size="8.2" text-anchor="middle" fill="#222" stroke="#222" stroke-width="0.2">9%</text>
<text x="619.10" y="844.80" font-size="8.2" text-anchor="middle" fill="#222" stroke="#222" stroke-width="0.2">18%</text>
<text x="613.20" y="904.40" font-size="8.2" text-anchor="middle" fill="#222" stroke="#222" stroke-width="0.2">18%</text>
<text x="541.40" y="915.60" font-size="8.2" text-anchor="middle" fill="#222" stroke="#222" stroke-width="0.2">28%</text>
<text x="530.80" y="833.30" font-size="8.2" text-anchor="middle" fill="#222" stroke="#222" stroke-width="0.2">27%</text>
<rect x="596.40" y="787.80" width="54.30" height="22.10" fill="#fff" stroke="#333" stroke-width="0.9"/>
<text x="623.55" y="797.14" font-size="7.6" text-anchor="middle" fill="#222" stroke="#222" stroke-width="0.2"><tspan font-style="italic">FGFR2</tspan></text>
<text x="623.55" y="806.03" font-size="7.6" text-anchor="middle" fill="#222" stroke="#222" stroke-width="0.2">activation (1)</text>
<rect x="625.40" y="820.40" width="52.60" height="13.00" fill="#fff" stroke="#333" stroke-width="0.9"/>
<text x="651.70" y="829.64" font-size="7.6" text-anchor="middle" fill="#222" stroke="#222" stroke-width="0.2"><tspan font-style="italic">RB1</tspan> loss (2)</text>
<rect x="629.70" y="886.60" width="48.30" height="22.10" fill="#fff" stroke="#333" stroke-width="0.9"/>
<text x="653.85" y="895.94" font-size="7.6" text-anchor="middle" fill="#222" stroke="#222" stroke-width="0.2"><tspan font-style="italic">RAS</tspan></text>
<text x="653.85" y="904.83" font-size="7.6" text-anchor="middle" fill="#222" stroke="#222" stroke-width="0.2">activation (2)</text>
<rect x="458.00" y="880.00" width="60.60" height="21.70" fill="#fff" stroke="#333" stroke-width="0.9"/>
<text x="488.30" y="889.14" font-size="7.6" text-anchor="middle" fill="#222" stroke="#222" stroke-width="0.2">3+ Resistance</text>
<text x="488.30" y="898.03" font-size="7.6" text-anchor="middle" fill="#222" stroke="#222" stroke-width="0.2">mechanisms (3)</text>
<rect x="458.00" y="796.60" width="80.60" height="21.70" fill="#fff" stroke="#333" stroke-width="0.9"/>
<text x="498.30" y="805.74" font-size="7.6" text-anchor="middle" fill="#222" stroke="#222" stroke-width="0.2">Unknown resistance</text>
<text x="498.30" y="814.63" font-size="7.6" text-anchor="middle" fill="#222" stroke="#222" stroke-width="0.2">mechanism (3)</text>
</svg>
</body></html>
